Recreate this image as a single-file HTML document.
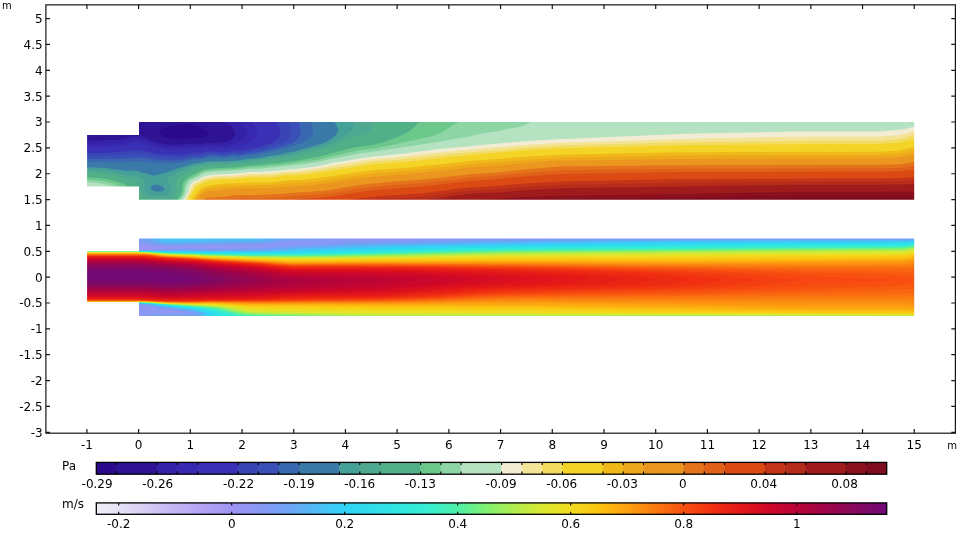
<!DOCTYPE html>
<html><head><meta charset="utf-8"><title>Plot</title>
<style>html,body{margin:0;padding:0;background:#fff;overflow:hidden}svg{display:block}text{font-family:"DejaVu Sans","Liberation Sans",sans-serif;fill:#000}</style></head><body>
<svg width="960" height="540" viewBox="0 0 960 540">
<rect width="960" height="540" fill="#fff"/>
<mask id="c1" maskUnits="userSpaceOnUse" x="80" y="115" width="840" height="90"><path d="M87.10 134.95H139.00V122.05H914.20V199.70H139.00V186.60H87.10Z" fill="#fff"/></mask>
<g mask="url(#c1)"><rect x="80" y="115" width="840" height="90" fill="#2a0a8a"/>
<path fill="#2e1494" d="M132.7 121.0L916.0 121.0L916.0 201.0L86.0 201.0L86.0 133.9L96.5 133.8L107.0 133.2L114.5 133.3L118.0 132.8L120.5 131.9L123.8 130.5L127.5 128.3L128.9 127.0L130.2 125.5L131.8 123.0ZM185.5 124.0L182.5 124.3L169.5 126.5L165.5 127.6L162.3 129.0L160.0 130.5L158.9 132.0L158.8 132.5L159.0 133.5L160.1 135.0L161.5 136.0L163.5 136.9L166.0 137.7L169.5 138.4L180.0 139.2L188.0 138.2L195.0 138.5L197.5 138.3L203.9 137.0L205.5 136.5L206.9 135.5L207.6 134.5L207.8 133.5L207.6 132.5L206.5 131.0L204.5 129.6L199.2 127.0L195.5 125.6L191.5 124.6L188.5 124.1Z"/>
<path fill="#3520a8" d="M221.6 121.0L916.0 121.0L916.0 201.0L86.0 201.0L86.0 140.4L95.0 140.7L106.0 139.9L113.0 140.1L116.5 140.0L119.5 139.5L128.5 137.6L134.5 135.9L136.5 135.7L140.0 136.2L143.0 137.1L146.0 138.2L151.5 140.7L157.0 142.6L162.0 143.8L166.0 144.4L174.5 144.7L181.5 144.6L193.0 143.8L200.0 143.8L206.5 142.5L209.0 142.5L215.0 143.2L224.0 142.2L226.5 141.7L228.6 141.0L230.7 140.0L232.8 138.5L233.8 137.5L234.8 136.0L235.3 134.5L235.2 133.0L234.9 131.5L233.8 129.5L232.2 127.5L230.2 125.5L228.0 123.9L223.0 121.9Z"/>
<path fill="#3828b0" d="M239.3 121.0L916.0 121.0L916.0 201.0L86.0 201.0L86.0 143.9L96.0 143.9L117.0 143.0L121.0 142.5L126.5 141.4L130.0 140.5L134.5 139.2L136.5 138.9L138.5 139.1L141.0 139.8L149.5 143.1L154.0 144.5L162.0 146.4L165.0 146.8L175.0 147.0L184.0 146.8L194.5 145.8L200.5 146.2L202.0 146.0L205.5 144.8L207.0 144.7L215.5 145.8L222.5 145.7L226.5 145.3L231.5 144.2L241.0 140.8L242.5 140.0L243.8 139.0L244.7 138.0L245.7 136.5L246.3 135.0L246.5 133.0L246.3 131.5L245.6 129.5L243.5 126.0Z"/>
<path fill="#3a30b5" d="M252.4 121.0L916.0 121.0L916.0 201.0L86.0 201.0L86.0 147.3L106.5 146.8L117.0 146.0L124.5 145.1L131.5 143.6L135.5 142.6L137.0 142.4L139.0 142.7L142.0 143.4L148.5 145.7L153.5 147.1L161.5 148.9L164.5 149.3L174.5 149.4L184.5 149.1L194.5 148.1L200.5 148.6L202.0 148.4L205.5 147.2L207.0 146.9L216.5 147.9L223.0 148.1L226.5 147.8L240.0 145.2L245.5 143.8L248.0 142.8L250.6 141.5L252.9 140.0L254.7 138.5L255.9 137.0L256.7 135.5L257.2 133.5L257.2 131.5L256.8 129.5L256.0 127.5Z"/>
<path fill="#3a45b5" d="M276.6 121.0L916.0 121.0L916.0 201.0L86.0 201.0L86.0 153.1L95.5 153.1L113.5 152.4L134.0 150.2L137.0 150.1L140.5 150.5L151.0 152.8L161.5 154.3L169.0 154.8L181.5 154.7L184.5 154.5L192.5 153.3L200.5 153.3L206.0 151.7L208.5 151.4L214.0 151.5L224.0 152.3L226.5 152.0L233.0 150.6L240.0 150.7L245.8 150.0L251.1 149.0L257.5 147.5L268.0 144.3L270.2 143.5L273.2 142.0L275.7 140.5L277.5 139.0L278.8 137.5L279.7 136.0L280.3 134.0L280.3 132.0L280.1 130.0L279.5 128.0Z"/>
<path fill="#3a50b8" d="M288.1 121.0L916.0 121.0L916.0 201.0L86.0 201.0L86.0 156.1L95.0 156.1L114.0 155.5L134.5 154.0L137.5 153.9L141.5 154.2L151.0 155.8L162.5 157.2L169.0 157.6L181.5 157.5L184.0 157.3L189.0 156.2L192.0 155.7L200.5 155.6L206.5 153.9L209.5 153.4L215.0 153.3L222.0 154.1L224.5 154.2L227.0 153.8L233.0 152.4L234.5 152.4L238.0 152.9L240.5 152.9L245.5 152.3L252.5 151.2L262.8 149.0L270.4 147.0L275.1 145.5L281.8 143.0L285.5 141.0L288.3 139.0L289.7 137.5L290.5 136.0L291.0 134.5L291.1 132.5L290.9 130.0L290.5 128.0Z"/>
<path fill="#3a68b0" d="M298.6 121.0L916.0 121.0L916.0 201.0L86.0 201.0L86.0 159.1L116.5 158.8L139.0 157.6L144.0 158.0L151.0 159.0L162.5 160.2L170.0 160.4L180.5 160.2L184.0 159.8L189.5 158.3L192.0 157.9L194.5 157.7L199.5 157.8L201.0 157.6L207.0 155.9L210.5 155.3L215.0 155.2L222.0 156.0L225.0 156.0L227.0 155.7L233.0 154.3L234.0 154.3L237.0 154.9L240.0 155.0L247.5 154.0L257.5 152.5L274.0 148.8L282.1 146.5L291.1 143.5L293.5 142.4L296.0 140.8L297.5 139.5L298.9 137.5L300.0 135.0L300.5 132.5L300.6 130.5L300.2 127.5Z"/>
<path fill="#3a7aa8" d="M310.8 121.0L916.0 121.0L916.0 201.0L86.0 201.0L86.0 162.0L101.0 161.9L121.5 162.4L139.0 161.6L144.0 161.9L151.0 162.8L160.5 163.6L168.5 163.6L182.5 162.4L184.5 162.0L189.4 160.5L192.0 159.9L194.5 159.6L200.5 159.4L207.5 157.8L211.0 157.3L215.0 157.2L222.0 157.8L225.0 157.8L232.5 156.6L237.0 156.9L240.0 156.8L259.0 154.3L276.5 150.7L292.5 146.6L295.6 145.5L300.0 143.4L303.8 142.0L307.4 140.0L309.5 138.5L311.5 136.5L312.5 135.0L313.1 133.5L313.2 131.5L312.8 128.5Z"/>
<path fill="#45a098" d="M334.4 121.0L916.0 121.0L916.0 201.0L86.0 201.0L86.0 167.5L98.0 167.6L105.0 167.9L119.0 169.9L126.5 170.7L129.0 170.7L133.5 170.4L135.5 170.4L137.5 170.9L141.0 172.3L146.6 173.5L151.0 175.1L152.5 175.4L154.5 175.4L157.0 175.1L163.5 173.5L177.0 168.7L184.5 166.7L191.0 164.4L195.0 163.4L199.5 162.9L205.0 161.9L210.0 161.3L224.0 161.2L239.0 160.4L247.5 159.1L259.0 158.0L269.5 155.9L278.5 154.7L286.0 153.1L293.5 151.8L296.5 151.0L300.0 149.7L309.2 147.5L322.0 143.6L325.9 142.0L328.9 140.5L332.6 138.0L335.0 136.0L336.6 134.0L337.9 131.5L338.2 130.0L337.9 128.0L337.2 126.5L335.0 123.0ZM153.5 185.0L151.5 186.0L151.0 186.5L150.5 187.5L150.7 188.5L151.4 189.5L153.5 190.8L156.5 191.6L160.0 191.6L162.5 190.9L163.5 190.3L164.1 189.5L164.2 188.5L163.6 187.5L161.5 186.2L159.5 185.5L156.5 184.8L155.0 184.7Z"/>
<path fill="#4fa890" d="M353.1 121.0L916.0 121.0L916.0 201.0L86.0 201.0L86.0 170.2L96.0 170.2L102.5 170.6L112.5 172.1L128.0 175.7L130.0 175.7L134.0 175.2L136.0 175.5L139.0 176.8L142.5 178.0L143.5 178.5L144.5 179.5L145.0 180.5L145.0 181.5L144.3 185.5L144.4 188.5L144.8 190.0L145.6 191.5L146.5 192.7L147.5 193.5L150.5 194.8L153.5 195.4L161.5 195.6L164.5 195.4L167.6 194.5L169.5 193.5L170.5 192.5L171.1 191.0L171.2 189.0L170.7 187.0L169.8 185.0L167.1 181.0L166.9 180.0L167.2 179.0L168.8 177.5L174.5 174.0L181.5 170.7L185.5 169.3L193.0 166.4L203.5 163.9L211.5 163.1L224.5 162.9L237.0 162.3L248.0 160.7L260.0 159.7L269.5 157.9L278.5 156.8L286.0 155.3L294.0 154.2L296.5 153.5L300.5 152.1L312.0 149.5L321.5 146.9L328.6 144.5L335.1 141.5L340.8 138.0L350.8 131.0L352.8 129.0L353.4 128.0L353.7 127.0L353.7 125.0Z"/>
<path fill="#52b088" d="M372.3 121.0L916.0 121.0L916.0 201.0L86.0 201.0L86.0 172.7L98.5 172.9L102.5 173.3L109.5 174.4L113.5 175.2L120.5 177.1L128.0 179.7L133.5 181.0L135.0 181.9L136.3 183.0L137.6 184.5L138.9 186.5L140.0 189.2L141.5 194.5L142.3 196.0L143.5 197.2L145.5 198.1L149.0 198.9L152.5 199.2L158.0 199.1L164.0 199.3L169.5 198.9L171.5 198.3L173.4 197.0L175.2 195.0L176.3 193.0L176.7 191.5L176.8 190.0L176.2 184.5L176.2 182.5L176.8 180.5L178.3 178.0L180.5 176.0L183.5 174.0L190.5 170.5L196.5 168.0L202.5 166.1L207.0 165.3L213.0 164.9L225.0 164.6L236.5 164.0L248.0 162.4L259.5 161.5L270.0 159.8L279.5 158.8L286.5 157.5L295.0 156.4L300.5 154.7L319.5 150.3L327.5 148.1L335.0 145.3L339.3 143.5L351.0 138.0L363.5 134.6L367.5 133.0L369.0 132.0L370.2 131.0L371.5 129.0L372.1 126.5Z"/>
<path fill="#6cc88a" d="M419.5 121.5L419.9 121.0L916.0 121.0L916.0 201.0L176.0 201.0L179.2 197.0L181.2 193.5L182.0 191.0L182.2 186.0L182.6 184.0L183.2 182.5L184.5 180.5L186.7 178.5L189.5 176.6L200.0 171.2L203.0 170.0L205.5 169.3L208.5 168.8L221.5 168.0L235.5 167.4L248.0 165.7L260.0 165.1L270.0 163.7L280.5 162.9L288.0 161.9L295.5 161.1L300.5 159.9L318.5 156.7L335.0 152.6L351.5 147.9L357.5 146.9L369.3 145.5L374.6 144.5L382.5 142.5L388.7 140.5L399.8 136.0L405.2 133.5L408.7 131.5L412.1 129.0L414.3 127.0L417.9 123.0ZM86.0 177.5L89.0 177.4L96.0 177.7L100.5 178.1L105.0 178.8L112.5 180.4L120.6 183.0L123.5 184.1L128.2 186.5L130.1 188.0L131.6 190.5L134.5 197.5L136.6 201.0L86.0 201.0Z"/>
<path fill="#8dd5a5" d="M460.0 121.5L460.6 121.0L916.0 121.0L916.0 201.0L178.3 201.0L181.4 196.5L183.0 193.6L183.8 191.0L184.3 187.0L184.7 185.0L185.5 183.0L187.1 181.0L189.0 179.2L191.0 177.9L197.0 175.1L201.5 172.4L204.5 171.3L209.0 170.5L222.0 169.6L236.0 169.0L248.5 167.3L259.5 166.9L270.5 165.6L281.5 164.8L288.5 163.9L296.5 163.1L300.5 162.3L318.5 159.7L328.0 157.2L336.3 155.5L354.0 151.3L360.0 150.3L371.1 149.0L379.6 147.5L430.8 136.5L436.9 134.5L441.4 132.5L445.7 130.0L454.0 124.6ZM86.0 180.0L86.0 179.8L94.0 180.0L98.5 180.4L103.0 181.1L108.0 182.1L112.0 183.2L116.0 184.5L119.6 186.0L124.3 188.5L125.7 189.5L127.0 190.8L128.5 193.0L132.7 201.0L86.0 201.0Z"/>
<path fill="#b5e3c2" d="M531.4 121.0L916.0 121.0L916.0 201.0L180.1 201.0L183.3 196.0L184.4 194.0L185.3 191.5L186.5 185.5L187.5 183.5L189.0 181.5L190.6 180.0L192.0 179.0L197.5 176.8L202.5 173.8L206.0 172.6L209.5 172.1L220.5 171.2L236.0 170.6L249.0 168.9L259.5 168.7L270.0 167.6L280.0 166.8L288.5 165.8L296.5 165.1L300.5 164.4L317.0 162.2L321.5 161.3L330.5 159.0L339.2 157.5L358.0 153.7L374.5 151.5L404.0 146.9L420.0 144.7L430.5 143.1L444.0 140.9L456.5 138.6L470.0 136.5L477.5 134.4L483.0 133.2L499.5 131.3L500.6 131.0L503.5 129.7L506.5 128.9L520.5 127.0L525.5 124.5L530.1 122.5L531.0 122.0L531.4 121.5ZM86.0 182.5L86.0 182.2L91.0 182.3L95.5 182.7L99.5 183.2L107.7 185.0L111.5 186.1L114.5 187.3L119.5 189.9L122.9 192.5L125.5 195.6L128.8 201.0L86.0 201.0Z"/>
<path fill="#f3ecd5" d="M913.7 127.0L916.0 126.8L916.0 201.0L183.1 201.0L187.3 193.5L189.9 186.0L190.8 184.5L192.0 183.0L193.9 181.5L199.0 179.3L202.5 177.2L204.5 176.4L207.5 175.6L214.0 174.7L234.0 173.8L251.0 172.0L259.5 172.0L274.0 171.1L278.5 170.7L286.0 169.7L296.5 169.0L319.0 165.9L332.5 163.1L345.0 161.1L367.5 157.3L405.0 153.4L435.0 149.6L482.0 145.1L531.5 140.7L557.5 139.2L638.5 135.7L680.0 134.1L712.0 133.3L795.0 131.6L880.0 131.4L900.0 129.8L907.5 128.4L910.5 127.6ZM86.0 188.0L86.0 187.6L88.0 187.6L95.0 188.3L100.5 189.4L106.0 191.2L110.1 193.0L114.0 195.3L117.5 198.2L119.2 200.0L119.9 201.0L86.0 201.0Z"/>
<path fill="#f3e49a" d="M914.5 130.5L916.0 130.3L916.0 201.0L184.5 201.0L188.5 194.0L191.5 186.7L192.5 185.1L193.5 184.0L195.5 182.6L199.5 180.8L203.5 178.6L206.0 177.8L209.5 177.0L215.0 176.2L234.5 175.4L251.5 173.7L260.0 173.8L273.5 173.1L278.5 172.6L285.0 171.5L297.0 170.9L308.0 169.6L319.5 167.9L335.0 165.0L368.9 159.5L405.0 156.3L436.5 152.5L455.0 150.8L500.0 147.1L519.5 145.3L560.5 142.7L680.0 139.1L794.0 136.7L880.0 136.5L900.0 134.9L908.0 132.9ZM86.0 191.0L86.0 190.7L88.0 190.8L93.5 191.3L98.0 192.3L102.0 193.5L105.7 195.0L109.0 196.7L112.5 199.1L114.5 201.0L86.0 201.0Z"/>
<path fill="#f2dc62" d="M913.9 134.5L915.0 134.1L916.0 134.0L916.0 201.0L186.0 201.0L186.7 199.5L190.0 194.0L193.0 187.8L194.0 186.3L195.3 185.0L197.6 183.5L204.0 180.4L207.5 179.3L212.0 178.3L215.0 177.9L222.0 177.5L234.5 177.2L252.5 175.4L260.5 175.6L272.5 175.2L278.0 174.6L285.0 173.3L293.5 173.2L297.5 173.0L308.0 171.8L318.0 170.4L369.5 161.9L375.5 161.3L394.5 160.0L406.0 159.1L439.0 155.3L461.0 153.1L499.7 150.0L520.0 148.0L560.5 145.6L680.0 142.2L795.0 141.0L880.0 140.7L900.0 139.1L908.0 137.0ZM86.0 194.5L86.0 194.2L90.5 194.5L94.0 195.1L97.5 196.0L100.5 197.0L103.5 198.3L106.7 200.0L107.9 201.0L86.0 201.0Z"/>
<path fill="#f5d428" d="M914.5 138.5L916.0 138.3L916.0 201.0L187.6 201.0L188.0 200.0L191.2 195.0L194.5 189.1L195.7 187.5L197.3 186.0L199.7 184.5L204.5 182.4L208.5 181.2L213.5 180.2L223.5 179.3L235.0 179.0L253.0 177.3L261.5 177.6L272.5 177.4L278.0 176.8L285.0 175.3L295.5 175.3L304.5 174.5L318.5 172.8L371.0 164.4L407.5 161.8L469.5 155.0L497.0 152.8L520.0 150.6L560.5 148.3L626.0 146.8L680.0 145.2L795.0 144.3L880.0 144.0L900.0 142.5L907.0 140.8ZM86.0 198.0L89.0 198.2L93.0 198.9L97.0 200.0L99.1 201.0L86.0 201.0Z"/>
<path fill="#f0b818" d="M914.2 147.0L916.0 146.8L916.0 201.0L191.3 201.0L192.9 198.5L197.5 192.2L199.5 190.0L202.0 188.2L204.5 187.0L207.5 186.1L220.5 184.1L225.0 183.7L235.0 183.3L250.0 182.4L265.0 182.4L272.0 182.2L277.0 181.8L287.0 180.6L296.5 180.2L308.5 179.3L323.5 177.5L359.5 172.1L374.0 170.2L410.5 167.5L470.0 161.0L500.0 158.8L520.0 157.0L560.0 154.7L680.0 152.2L880.0 151.7L900.0 150.4L908.0 148.7Z"/>
<path fill="#eda81c" d="M913.1 151.0L915.0 150.5L916.0 150.5L916.0 201.0L193.6 201.0L195.5 198.2L199.5 193.4L201.5 191.5L204.0 189.9L206.0 189.1L208.5 188.5L215.0 187.8L223.0 186.6L227.5 186.2L247.5 185.2L265.0 185.1L272.0 184.9L288.5 183.5L310.5 182.0L324.5 180.4L358.0 175.4L375.0 173.3L384.1 172.5L413.5 170.4L469.5 164.3L500.0 162.1L521.0 160.2L560.0 157.7L680.0 155.6L880.0 154.9L900.0 153.9L908.0 152.3Z"/>
<path fill="#ea961f" d="M913.7 154.5L916.0 154.2L916.0 201.0L196.1 201.0L196.7 200.0L199.0 197.2L202.5 193.8L205.5 192.0L207.0 191.5L209.0 191.1L215.5 190.7L224.5 189.4L232.0 188.8L245.0 188.2L262.0 188.2L272.0 187.9L313.5 184.9L325.0 183.6L359.5 178.5L377.5 176.4L420.5 173.0L470.0 167.6L499.5 165.5L520.5 163.5L553.5 161.1L560.5 160.7L680.0 159.0L880.0 158.2L900.0 157.3L908.0 155.8Z"/>
<path fill="#e4731c" d="M913.1 162.0L916.0 161.6L916.0 201.0L202.0 201.0L203.0 199.8L205.0 198.4L206.5 197.8L208.5 197.4L215.0 197.4L219.0 197.1L223.5 196.7L232.0 195.5L238.0 195.0L244.0 194.9L255.5 195.1L279.5 194.0L300.0 192.3L321.5 190.9L331.5 189.7L360.5 185.1L376.5 183.2L389.5 182.1L425.1 179.5L470.0 174.3L500.0 172.2L520.0 170.0L560.0 166.5L680.0 165.2L880.0 164.8L900.0 164.2L908.0 163.0Z"/>
<path fill="#e06218" d="M912.1 166.0L916.0 165.5L916.0 201.0L217.5 201.0L232.0 199.1L237.0 198.7L243.0 198.5L255.5 198.7L281.0 197.5L300.0 195.6L323.0 194.1L333.0 192.9L360.5 188.5L378.0 186.4L390.5 185.3L424.5 182.9L470.0 177.7L500.0 175.6L520.0 173.4L560.0 170.2L680.0 168.7L880.0 168.2L900.0 167.7Z"/>
<path fill="#dc4a14" d="M914.2 169.5L916.0 169.4L916.0 201.0L284.1 201.0L300.0 199.0L317.5 197.8L329.5 196.7L359.5 192.0L379.0 189.7L426.0 186.2L455.0 182.6L470.0 181.0L499.5 179.0L520.0 176.8L560.0 174.0L680.0 172.1L880.0 171.6L900.0 171.2Z"/>
<path fill="#c43418" d="M913.0 177.0L916.0 176.8L916.0 201.0L344.7 201.0L346.7 200.5L358.5 198.5L371.0 196.9L384.5 195.7L412.0 194.1L423.0 193.2L435.5 191.8L457.0 188.8L470.0 187.4L499.5 185.8L520.0 183.8L560.0 181.4L680.0 179.0L880.0 178.3L900.0 178.0Z"/>
<path fill="#b62c1a" d="M913.7 180.5L916.0 180.4L916.0 201.0L364.7 201.0L370.0 200.1L377.5 199.4L413.5 197.4L424.8 196.5L435.5 195.2L457.0 192.0L470.0 190.5L499.5 189.2L520.0 187.2L560.0 184.9L680.5 182.7L794.5 181.7L880.5 181.5L900.0 181.2Z"/>
<path fill="#a01c1c" d="M900.6 184.5L916.0 184.0L916.0 201.0L413.3 201.0L431.0 199.4L456.0 195.4L470.0 193.6L500.0 192.5L520.0 190.5L560.0 188.3L794.5 184.8L879.5 184.7Z"/>
<path fill="#8a101e" d="M908.7 191.5L916.0 191.3L916.0 201.0L471.0 201.0L474.0 200.5L479.3 200.0L500.0 199.1L520.0 197.0L560.0 195.8L680.0 193.9L795.0 191.8L880.0 191.7Z"/>
<path fill="#800c20" d="M908.8 195.5L916.0 195.4L916.0 201.0L520.6 201.0L522.4 200.5L534.2 200.0L559.8 199.5L697.5 197.4L794.5 195.7Z"/>
</g>
<mask id="c2" maskUnits="userSpaceOnUse" x="80" y="232" width="840" height="90"><path d="M87.10 251.35H139.00V238.40H914.20V315.90H139.00V302.00H87.10Z" fill="#fff"/></mask>
<g mask="url(#c2)"><rect x="80" y="232" width="840" height="90" fill="#9f94f5"/>
<path fill="#9995f5" d="M86.0 237.4L916.0 237.4L916.0 316.9L86.0 316.9L86.0 249.1L139.0 249.1L143.9 248.9L149.6 248.4L139.5 248.1L86.0 248.1Z"/>
<path fill="#9496f4" d="M86.0 237.4L916.0 237.4L916.0 316.9L86.0 316.9L86.0 249.6L139.5 249.7L169.5 248.5L170.8 248.4L173.1 247.9L172.1 247.4L170.0 247.3L146.5 246.4L86.0 246.3Z"/>
<path fill="#8e97f4" d="M86.0 237.4L362.7 237.4L364.0 237.9L370.5 238.2L395.4 237.9L402.0 237.4L916.0 237.4L916.0 316.9L86.0 316.9L86.0 249.9L139.5 249.9L172.6 248.9L182.0 248.0L189.5 247.6L195.5 247.6L205.5 248.0L212.5 248.1L232.7 247.9L242.6 247.4L237.4 246.9L219.5 246.4L208.5 246.3L191.5 246.7L164.0 246.2L139.5 245.1L86.0 245.1ZM160.0 310.4L159.8 310.4L159.4 310.9L160.1 311.4L161.4 311.9L163.7 312.4L167.0 312.6L171.0 312.5L172.9 312.4L174.2 311.9L174.2 311.4L173.8 310.9L172.6 310.4L170.5 310.1L165.5 310.0Z"/>
<path fill="#8898f4" d="M86.0 237.4L343.3 237.4L343.4 237.9L343.8 238.4L344.5 238.8L346.0 239.2L348.0 239.5L356.0 240.0L369.5 240.2L393.5 239.9L468.0 238.7L514.5 238.2L639.0 238.0L902.0 237.9L904.6 237.9L908.6 237.4L916.0 237.4L916.0 316.9L86.0 316.9L86.0 311.0L138.0 311.0L139.0 310.9L141.0 310.1L142.5 309.7L147.0 309.5L148.5 309.5L150.7 310.9L153.9 312.4L156.2 312.9L158.0 313.1L164.9 313.4L174.5 313.3L181.5 312.9L181.6 312.4L176.4 310.4L173.7 309.9L168.0 309.5L150.0 309.2L149.5 309.1L148.8 308.4L148.0 307.9L145.5 307.3L142.5 307.4L138.5 307.7L86.0 307.7L86.0 250.0L140.0 250.1L172.0 249.2L191.0 248.2L209.5 248.7L244.7 248.4L260.2 247.9L263.3 247.4L264.2 246.9L264.2 246.4L263.5 245.9L261.5 245.5L253.0 245.3L211.0 245.2L190.0 245.7L167.5 245.7L158.5 245.5L145.5 244.5L139.0 244.1L86.0 244.1ZM292.0 243.9L285.4 244.4L291.5 244.5L298.9 244.4L298.0 243.9Z"/>
<path fill="#829bf4" d="M86.0 237.4L331.3 237.4L331.2 237.9L330.7 238.4L329.0 239.1L325.0 240.0L321.0 240.6L312.5 241.1L293.0 241.5L288.3 241.9L280.0 243.0L271.5 243.6L254.0 244.1L209.0 244.6L183.5 245.2L169.0 245.3L163.0 245.2L157.5 244.9L139.0 243.1L86.0 243.1ZM909.6 238.4L916.0 238.1L916.0 316.9L143.0 316.9L143.2 315.9L144.1 314.9L145.1 314.4L147.0 314.1L151.0 313.9L181.0 313.8L188.3 313.4L189.3 312.9L184.0 311.7L179.2 310.4L176.7 309.9L172.5 309.4L160.5 308.8L156.0 308.3L152.0 307.2L146.9 305.4L145.0 305.1L142.5 305.2L138.5 306.0L86.0 306.0L86.0 250.1L139.5 250.2L174.0 249.4L190.5 248.7L211.5 249.1L256.0 248.6L262.0 248.4L267.5 247.9L274.5 246.7L280.0 246.1L312.9 244.9L318.5 244.4L327.0 242.7L330.5 242.3L337.5 241.8L349.0 241.5L401.8 240.9L470.0 239.5L512.5 239.0L601.0 238.7L902.0 238.5Z"/>
<path fill="#7b9ef5" d="M86.0 237.4L320.9 237.4L320.6 237.9L319.5 238.4L317.0 238.9L314.0 239.3L305.0 240.0L290.5 240.7L276.5 242.5L268.0 243.1L254.5 243.6L168.5 244.9L162.0 244.7L156.0 244.3L138.5 241.8L86.0 241.8ZM766.8 238.9L902.0 238.9L916.0 238.6L916.0 316.9L148.8 316.9L149.0 316.4L149.4 315.9L150.5 315.4L152.5 315.0L155.0 314.7L162.5 314.5L189.5 314.2L193.0 313.9L194.3 313.4L194.0 312.9L193.0 312.6L187.0 311.6L179.1 309.9L172.5 309.1L162.0 308.4L158.0 307.8L154.5 307.0L148.2 304.9L145.5 304.6L141.5 304.4L138.0 304.6L86.0 304.6L86.0 250.2L140.0 250.3L174.5 249.7L190.5 249.1L212.5 249.5L256.5 249.0L268.4 248.4L279.5 247.0L285.0 246.6L315.2 245.4L324.2 244.9L342.0 243.2L353.0 242.6L366.5 242.2L412.7 241.4L477.0 240.0L514.5 239.6L585.0 239.2Z"/>
<path fill="#74a1f6" d="M139.5 237.4L310.9 237.4L310.4 237.9L308.8 238.4L305.1 238.9L289.0 240.1L274.5 242.1L265.5 242.8L254.5 243.1L168.5 244.5L162.5 244.3L156.5 243.8L151.0 243.0L146.0 241.9L143.0 240.9L141.3 239.9L139.7 238.4ZM632.8 239.4L902.0 239.2L916.0 238.9L916.0 316.9L153.3 316.9L153.5 316.4L154.3 315.9L156.6 315.4L158.5 315.2L166.5 314.9L192.0 314.8L194.7 314.4L195.8 313.9L196.3 313.4L196.0 312.9L194.6 312.4L181.2 309.9L175.0 309.1L164.5 308.2L160.0 307.6L156.0 306.7L149.9 304.9L147.1 304.4L138.5 303.9L86.0 303.9L86.0 250.4L140.0 250.4L190.5 249.5L212.5 249.9L255.5 249.4L268.5 248.8L284.0 247.3L290.0 246.8L325.3 245.4L352.0 243.6L370.0 242.9L501.5 240.2L561.5 239.7Z"/>
<path fill="#6ea4f6" d="M143.2 237.4L300.5 237.4L299.9 237.9L297.7 238.4L284.5 239.8L270.9 241.9L263.0 242.5L254.0 242.8L168.5 244.1L163.5 244.0L159.0 243.7L155.0 243.1L151.5 242.4L148.6 241.4L144.8 239.4L143.5 238.4ZM906.8 239.4L916.0 239.2L916.0 316.9L157.8 316.9L158.1 316.4L159.6 315.9L165.5 315.4L192.5 315.7L194.5 315.3L196.0 314.8L197.5 313.9L197.8 313.4L197.5 312.9L196.4 312.4L193.0 311.6L179.9 309.4L162.0 307.5L158.0 306.7L151.3 304.9L147.5 304.3L138.5 303.7L86.0 303.7L86.0 250.4L140.0 250.5L190.5 249.9L216.5 250.2L256.5 249.7L270.5 249.1L292.5 247.2L328.0 245.7L354.5 244.2L365.5 243.7L415.0 242.5L507.5 240.7L576.5 240.1L644.0 239.7Z"/>
<path fill="#66aaf6" d="M146.8 237.4L289.7 237.4L289.1 237.9L287.4 238.4L279.0 239.7L270.0 241.4L261.5 242.2L254.0 242.4L218.0 242.9L193.5 243.5L168.5 243.7L160.7 243.4L156.9 242.9L154.5 242.4L151.8 241.4L148.4 239.4L147.2 238.4ZM701.9 239.9L902.0 239.7L916.0 239.5L916.0 316.9L195.3 316.9L195.5 316.4L196.1 315.9L198.0 314.8L199.0 313.9L199.2 313.4L198.9 312.9L197.9 312.4L196.5 312.0L193.0 311.2L181.0 309.3L163.0 307.2L149.9 304.4L139.0 303.6L86.0 303.6L86.0 250.5L140.0 250.6L188.5 250.3L214.0 250.5L255.0 250.1L271.5 249.5L294.0 247.6L330.5 246.1L359.0 244.6L371.5 244.2L412.5 243.1L487.0 241.6L525.0 241.0L611.0 240.2ZM164.6 316.4L167.5 316.2L172.5 316.3L175.4 316.4L177.6 316.9L163.6 316.9Z"/>
<path fill="#5fb0f6" d="M150.0 237.4L281.0 237.4L280.6 237.9L279.3 238.4L268.1 240.9L265.0 241.4L258.5 241.9L211.5 242.6L193.0 243.1L168.5 243.4L164.5 243.3L160.5 242.9L157.5 242.4L155.9 241.9L154.0 240.9L150.9 238.9L150.4 238.4ZM909.5 239.9L916.0 239.7L916.0 316.9L197.9 316.9L198.0 316.4L198.4 315.9L200.0 314.4L200.3 313.9L200.4 313.4L200.1 312.9L199.2 312.4L197.0 311.7L193.3 310.9L183.6 309.4L164.5 307.1L151.0 304.4L146.4 303.9L139.0 303.4L86.0 303.4L86.0 250.5L137.0 250.5L140.0 250.7L185.0 250.6L211.5 250.8L257.3 250.4L273.0 249.8L296.0 248.0L366.5 244.8L473.4 242.4L521.5 241.5L587.0 240.8L653.8 240.4L769.5 240.1L902.0 240.0Z"/>
<path fill="#58b6f6" d="M153.1 237.4L272.6 237.4L272.3 237.9L271.3 238.4L264.4 240.4L262.3 240.9L257.7 241.4L211.0 242.1L192.5 242.7L168.5 243.0L163.0 242.7L160.9 242.4L159.0 241.9L157.0 240.9L154.0 238.9L153.5 238.4ZM825.0 240.4L902.5 240.4L916.0 240.0L916.0 316.9L199.9 316.9L200.2 315.9L201.3 314.4L201.6 313.4L201.3 312.9L200.4 312.4L197.0 311.3L193.0 310.5L185.4 309.4L165.0 306.8L151.9 304.4L147.7 303.9L139.0 303.3L86.0 303.3L86.0 250.6L137.5 250.6L140.0 250.7L182.0 250.8L210.0 251.1L254.5 250.8L272.0 250.3L299.1 248.4L366.5 245.4L502.9 242.4L567.5 241.5L636.6 240.9L720.0 240.6Z"/>
<path fill="#50bcf6" d="M156.3 237.4L262.6 237.4L262.4 237.9L261.7 238.4L258.7 239.4L255.5 240.1L252.0 240.4L211.0 241.1L200.0 241.9L193.5 242.2L169.0 242.4L166.3 242.4L164.5 242.2L162.7 241.9L161.4 241.4L157.2 238.9L156.7 238.4ZM912.0 240.4L916.0 240.3L916.0 316.9L201.7 316.9L201.9 315.9L202.7 313.9L202.7 313.4L202.4 312.9L201.6 312.4L200.2 311.9L196.6 310.9L193.5 310.3L183.6 308.9L166.0 306.7L152.8 304.4L148.8 303.9L139.0 303.2L86.0 303.3L86.0 250.6L137.5 250.6L140.0 250.8L209.5 251.4L259.0 251.0L275.0 250.5L303.0 248.8L374.0 245.7L508.8 242.9L572.5 241.9L667.0 241.2L772.0 240.8L901.5 240.7Z"/>
<path fill="#48c2f6" d="M160.0 237.4L225.5 237.4L224.1 237.9L219.7 238.4L208.0 239.2L194.5 240.9L169.0 241.2L166.0 241.0L163.5 240.2L161.0 238.9L160.4 238.4L160.0 237.9ZM907.3 240.9L916.0 240.5L916.0 316.9L203.4 316.9L203.9 313.9L203.9 313.4L203.5 312.9L202.7 312.4L201.4 311.9L198.0 310.9L192.6 309.9L164.5 306.2L153.6 304.4L149.7 303.9L139.0 303.2L86.0 303.2L86.0 250.7L137.5 250.7L140.0 250.9L208.5 251.6L256.5 251.4L277.0 250.9L310.5 249.0L370.0 246.4L384.5 245.9L549.0 242.8L606.5 242.0L664.5 241.6L770.5 241.2L901.5 241.0Z"/>
<path fill="#40c8f6" d="M165.9 237.4L196.3 237.4L195.8 237.9L193.0 238.4L169.5 238.4L167.0 238.3L166.1 237.9ZM914.0 240.9L916.0 240.8L916.0 316.9L205.1 316.9L205.1 313.9L205.0 313.4L204.7 312.9L203.9 312.4L202.6 311.9L198.5 310.7L193.5 309.8L162.5 305.7L150.5 303.9L139.0 303.1L86.0 303.1L86.0 250.7L137.5 250.7L140.0 250.9L208.5 251.8L259.5 251.6L282.0 251.1L315.5 249.4L393.5 246.3L419.5 245.7L563.5 243.1L613.0 242.5L661.0 242.0L767.5 241.6L901.5 241.4Z"/>
<path fill="#38cef6" d="M910.0 241.4L916.0 241.1L916.0 316.9L206.9 316.9L206.4 313.9L205.8 312.9L203.8 311.9L198.5 310.4L193.0 309.5L163.0 305.6L151.3 303.9L139.0 303.0L86.0 303.0L86.0 250.8L137.5 250.8L140.0 251.0L167.0 251.5L208.0 252.0L263.5 251.9L286.5 251.4L322.0 249.7L358.0 248.4L391.0 246.9L407.0 246.4L579.0 243.4L624.5 242.8L673.5 242.4L775.5 242.0L901.5 241.7Z"/>
<path fill="#30d4f6" d="M915.3 241.4L916.0 241.4L916.0 316.9L208.9 316.9L208.7 315.9L207.5 313.4L207.1 312.9L205.0 311.9L199.8 310.4L193.5 309.3L171.4 306.4L161.0 305.2L152.0 303.9L139.0 302.9L86.0 303.0L86.0 250.8L137.5 250.9L140.0 251.0L167.5 251.7L208.5 252.2L265.0 252.2L281.7 251.9L299.1 251.4L327.0 250.0L363.5 248.8L401.0 247.2L419.5 246.6L442.0 246.2L513.0 245.2L598.5 243.7L643.0 243.1L747.5 242.5L901.5 242.1Z"/>
<path fill="#30d6f3" d="M911.6 241.9L916.0 241.6L916.0 316.9L211.2 316.9L210.9 315.9L208.4 312.9L206.2 311.9L200.5 310.3L193.0 309.0L172.9 306.4L162.0 305.2L152.7 303.9L139.5 302.9L86.0 302.9L86.0 250.9L137.5 250.9L140.0 251.1L168.0 251.9L208.0 252.4L268.4 252.4L300.0 251.8L335.0 250.2L375.3 248.9L411.0 247.4L451.5 246.4L530.2 245.4L606.5 244.1L653.0 243.5L753.5 242.9L901.5 242.4Z"/>
<path fill="#30d9f0" d="M909.1 242.4L916.0 241.9L916.0 316.9L213.5 316.9L213.2 315.9L209.8 312.9L208.9 312.4L205.9 311.4L200.5 310.0L193.5 308.8L170.4 305.9L162.5 305.1L153.4 303.9L139.5 302.8L86.0 302.9L86.0 250.9L137.5 250.9L140.0 251.1L167.0 252.0L208.5 252.6L246.5 252.7L269.0 252.6L308.6 251.9L342.0 250.4L388.6 248.9L420.0 247.6L462.0 246.7L663.0 243.9L762.0 243.3L900.5 242.8L904.5 242.7Z"/>
<path fill="#30dcee" d="M912.7 242.4L916.0 242.2L916.0 316.9L215.8 316.9L215.4 315.9L211.5 312.9L208.9 311.9L201.5 309.9L193.0 308.5L171.8 305.9L163.5 305.1L154.1 303.9L148.9 303.4L139.5 302.8L86.0 302.8L86.0 251.0L137.5 251.0L140.0 251.2L167.5 252.1L208.5 252.8L246.5 252.9L270.0 252.8L300.0 252.4L314.5 252.0L349.5 250.6L386.9 249.4L428.5 247.9L469.0 246.9L679.0 244.2L772.5 243.6L902.0 243.2L905.5 243.0Z"/>
<path fill="#30deeb" d="M910.4 242.9L916.0 242.4L916.0 316.9L218.0 316.9L217.9 316.4L217.6 315.9L217.0 315.4L213.1 312.9L212.0 312.4L202.5 309.8L193.8 308.4L173.2 305.9L164.0 305.1L154.8 303.9L149.0 303.3L139.5 302.7L86.0 302.8L86.0 251.0L137.5 251.0L140.0 251.2L167.5 252.2L208.5 252.9L248.0 253.1L273.0 253.0L312.2 252.4L357.5 250.7L435.5 248.1L478.5 247.1L687.0 244.6L777.5 244.0L901.5 243.5L905.0 243.4Z"/>
<path fill="#30e0e8" d="M913.5 242.9L916.0 242.7L916.0 316.9L220.2 316.9L220.1 316.4L219.7 315.9L219.0 315.4L214.6 312.9L212.0 311.9L205.5 310.2L201.0 309.3L196.0 308.5L174.5 305.9L164.5 305.0L150.4 303.4L140.0 302.7L86.0 302.7L86.0 251.1L137.5 251.1L140.0 251.3L152.5 251.7L167.5 252.3L209.0 253.1L248.0 253.3L275.0 253.2L300.0 252.9L322.0 252.4L361.0 251.0L443.0 248.3L484.0 247.4L692.0 245.0L787.0 244.3L901.5 243.9L905.5 243.7Z"/>
<path fill="#30e3e6" d="M911.4 243.4L916.0 243.0L916.0 316.9L222.3 316.9L222.2 316.4L221.9 315.9L221.1 315.4L215.1 312.4L211.7 311.4L206.5 310.1L202.0 309.2L197.2 308.4L175.8 305.9L163.0 304.8L151.1 303.4L140.0 302.7L86.0 302.7L86.0 251.1L137.5 251.1L140.0 251.4L152.0 251.7L167.0 252.4L209.5 253.2L248.0 253.5L276.5 253.4L302.5 253.1L323.0 252.6L446.0 248.6L491.0 247.6L702.5 245.3L796.0 244.7L901.0 244.2L905.5 244.0Z"/>
<path fill="#30e6e3" d="M914.1 243.4L916.0 243.2L916.0 316.9L224.5 316.9L224.4 316.4L224.0 315.9L223.2 315.4L216.6 312.4L213.2 311.4L209.2 310.4L204.0 309.3L198.8 308.4L177.1 305.9L163.5 304.7L151.8 303.4L140.0 302.6L86.0 302.6L86.0 251.2L137.5 251.2L140.0 251.4L151.5 251.8L167.0 252.5L209.5 253.4L248.5 253.7L280.0 253.6L302.5 253.3L322.5 252.9L452.5 248.8L494.0 247.9L705.5 245.7L901.0 244.5L905.5 244.3Z"/>
<path fill="#30e8e0" d="M912.2 243.9L916.0 243.5L916.0 316.9L226.7 316.9L226.6 316.4L226.1 315.9L225.2 315.4L218.1 312.4L210.8 310.4L205.0 309.2L200.0 308.3L178.3 305.9L164.0 304.7L152.0 303.4L140.0 302.6L86.0 302.6L86.0 251.2L137.5 251.2L140.0 251.5L154.0 252.0L167.0 252.6L209.5 253.5L248.5 253.9L282.0 253.8L304.5 253.5L326.0 253.0L452.0 249.2L499.0 248.1L712.5 246.0L898.5 244.9L904.5 244.7Z"/>
<path fill="#32eadc" d="M914.7 243.9L916.0 243.8L916.0 316.9L228.9 316.9L228.8 316.4L228.3 315.9L227.3 315.4L218.0 311.9L211.5 310.2L204.9 308.9L200.0 308.1L179.6 305.9L164.5 304.6L152.0 303.3L140.0 302.5L86.0 302.6L86.0 251.2L137.5 251.2L140.0 251.5L153.5 252.0L167.0 252.7L210.5 253.7L249.5 254.1L288.5 253.9L307.0 253.7L327.5 253.2L452.0 249.5L500.0 248.4L724.0 246.3L898.5 245.2L905.0 245.0Z"/>
<path fill="#34ebd8" d="M912.9 244.4L916.0 244.1L916.0 316.9L231.2 316.9L231.0 316.4L230.5 315.9L229.5 315.4L219.5 311.9L211.8 309.9L205.0 308.6L200.0 307.9L175.8 305.4L165.0 304.6L150.5 303.1L140.0 302.5L86.0 302.5L86.0 251.3L137.5 251.3L140.0 251.6L153.0 252.1L168.0 252.9L192.5 253.3L208.5 253.8L229.0 254.1L254.0 254.3L294.5 254.1L327.5 253.5L386.3 251.9L457.5 249.7L503.0 248.7L734.0 246.6L895.0 245.6L904.0 245.4Z"/>
<path fill="#36ecd4" d="M915.4 244.4L916.0 244.4L916.0 316.9L233.5 316.9L233.4 316.4L232.8 315.9L231.7 315.4L226.0 313.7L220.9 311.9L212.0 309.6L201.8 307.9L177.1 305.4L165.5 304.5L150.0 303.0L140.0 302.4L86.0 302.5L86.0 251.3L137.5 251.3L140.0 251.6L153.0 252.1L167.5 253.0L192.5 253.4L209.0 253.9L232.5 254.3L255.0 254.5L296.5 254.3L328.5 253.7L396.8 251.9L461.9 249.9L503.0 249.0L750.0 246.8L895.0 245.9L904.5 245.7Z"/>
<path fill="#38eed0" d="M913.5 244.9L916.0 244.6L916.0 316.9L236.0 316.9L235.8 316.4L235.2 315.9L234.0 315.4L228.0 313.8L222.4 311.9L217.0 310.4L209.5 308.8L203.5 307.9L199.1 307.4L178.3 305.4L165.5 304.5L152.0 303.1L140.5 302.4L86.0 302.4L86.0 251.4L137.5 251.4L140.0 251.7L152.5 252.2L167.5 253.0L192.5 253.5L209.0 254.1L233.5 254.5L254.0 254.7L297.5 254.5L327.0 254.0L395.5 252.2L465.5 250.1L505.0 249.3L761.5 247.0L892.5 246.2L904.0 246.0Z"/>
<path fill="#3eeec6" d="M911.8 245.4L916.0 244.9L916.0 316.9L238.7 316.9L238.5 316.4L237.8 315.9L236.4 315.4L229.5 313.7L223.9 311.9L217.0 310.0L208.8 308.4L200.5 307.4L179.5 305.4L164.0 304.3L151.5 303.0L140.5 302.4L86.0 302.4L86.0 251.4L137.5 251.4L140.0 251.7L152.5 252.2L167.5 253.1L192.5 253.6L209.0 254.2L235.0 254.7L254.0 254.8L298.0 254.7L327.5 254.2L400.0 252.4L468.5 250.4L507.0 249.6L776.5 247.2L891.0 246.6L903.5 246.4Z"/>
<path fill="#44efbc" d="M913.9 245.4L916.0 245.2L916.0 316.9L241.6 316.9L241.4 316.4L240.6 315.9L239.0 315.4L231.0 313.6L217.5 309.7L210.7 308.4L201.0 307.2L180.0 305.3L164.5 304.2L150.6 302.9L140.5 302.3L86.0 302.4L86.0 251.5L137.5 251.5L140.0 251.8L152.5 252.3L167.5 253.2L192.5 253.8L209.0 254.3L236.5 254.9L254.0 255.0L299.5 254.9L327.5 254.5L410.7 252.4L474.0 250.6L506.4 249.9L551.5 249.4L664.0 248.7L788.5 247.5L892.5 246.9L904.0 246.7Z"/>
<path fill="#4af0b2" d="M912.2 245.9L916.0 245.4L916.0 316.9L245.1 316.9L244.8 316.4L243.8 315.9L232.5 313.5L217.5 309.4L210.5 308.1L201.5 307.1L177.5 305.0L164.5 304.1L151.0 302.9L140.5 302.3L86.0 302.3L86.0 251.5L137.5 251.5L140.0 251.8L152.0 252.3L167.5 253.3L192.5 253.9L209.0 254.5L236.5 255.0L254.0 255.2L300.5 255.2L329.0 254.7L411.5 252.7L476.0 250.9L508.5 250.2L554.0 249.7L668.5 249.0L796.0 247.7L891.5 247.2L903.5 247.0Z"/>
<path fill="#50f0a8" d="M914.2 245.9L916.0 245.7L916.0 316.9L249.8 316.9L249.3 316.4L247.8 315.9L234.0 313.4L221.2 309.9L217.0 308.9L211.2 307.9L202.0 306.9L177.1 304.9L165.0 304.1L151.0 302.8L140.5 302.2L86.0 302.3L86.0 251.6L137.5 251.6L140.0 251.9L152.0 252.4L167.5 253.4L192.0 254.0L209.0 254.6L237.5 255.2L254.0 255.4L302.0 255.4L330.5 254.9L480.0 251.1L509.5 250.5L556.5 250.0L670.0 249.3L807.0 248.0L892.5 247.5L904.0 247.3Z"/>
<path fill="#5cf09a" d="M912.6 246.4L916.0 246.0L916.0 316.9L262.5 316.9L260.4 316.4L251.0 315.6L239.0 314.0L233.5 312.9L222.0 309.7L217.0 308.5L212.0 307.7L203.6 306.9L178.4 304.9L165.5 304.1L151.0 302.8L140.5 302.2L86.0 302.2L86.0 251.6L137.5 251.6L140.0 251.9L152.0 252.5L167.5 253.5L192.0 254.1L209.0 254.7L238.0 255.4L254.5 255.6L302.0 255.6L332.0 255.1L480.5 251.4L510.5 250.8L557.5 250.3L678.5 249.6L809.5 248.3L892.0 247.8L904.0 247.6Z"/>
<path fill="#68f08c" d="M914.4 246.4L916.0 246.2L916.0 316.9L292.2 316.9L288.8 316.4L255.0 315.3L247.0 314.7L241.5 314.0L236.5 313.1L221.0 309.0L217.0 308.2L213.0 307.6L205.8 306.9L179.8 304.9L165.0 304.0L150.5 302.7L139.5 302.1L86.0 302.2L86.0 251.7L137.5 251.7L140.0 252.0L152.5 252.6L166.5 253.6L192.0 254.2L210.0 254.9L249.0 255.7L303.0 255.8L334.0 255.4L481.0 251.8L511.0 251.2L561.5 250.6L681.0 249.9L815.5 248.6L893.5 248.1L904.5 247.9Z"/>
<path fill="#74f07e" d="M913.1 246.9L916.0 246.5L916.0 316.9L309.0 316.9L307.0 316.4L299.6 315.9L262.0 315.1L253.0 314.7L247.5 314.3L242.0 313.7L237.2 312.9L221.5 308.8L217.1 307.9L213.4 307.4L181.1 304.9L165.5 303.9L149.5 302.5L139.5 302.1L86.0 302.2L86.0 251.7L137.5 251.7L140.0 252.0L152.5 252.6L166.5 253.6L192.0 254.3L210.0 255.0L249.0 255.9L303.0 256.1L336.0 255.6L477.0 252.2L513.0 251.5L566.0 250.9L689.5 250.1L817.2 248.9L892.0 248.5L904.0 248.2L907.5 247.8Z"/>
<path fill="#80f070" d="M914.9 246.9L916.0 246.8L916.0 316.9L321.2 316.9L319.5 316.4L312.5 315.9L299.3 315.4L261.5 314.7L248.5 314.1L243.0 313.5L238.5 312.8L234.0 311.7L223.0 308.7L219.0 307.9L215.6 307.4L202.0 306.3L165.5 303.9L149.0 302.5L139.5 302.0L86.0 302.1L86.0 251.8L137.5 251.8L140.0 252.1L152.5 252.7L166.5 253.7L192.0 254.4L210.0 255.2L249.0 256.0L304.0 256.3L337.5 255.8L476.5 252.5L519.0 251.7L570.5 251.2L692.5 250.4L818.5 249.2L901.0 248.7L906.5 248.3Z"/>
<path fill="#8cf068" d="M913.8 247.4L916.0 247.1L916.0 316.5L668.0 316.3L642.1 316.4L628.0 316.9L332.9 316.9L331.1 316.4L325.2 315.9L312.9 315.4L265.0 314.4L254.0 314.1L249.0 313.8L243.5 313.2L239.0 312.5L223.5 308.4L217.0 307.3L203.0 306.2L165.5 303.8L148.5 302.4L140.0 302.0L86.0 302.1L86.0 251.8L137.5 251.8L140.0 252.2L152.5 252.8L166.5 253.8L192.0 254.5L210.0 255.3L249.0 256.2L285.0 256.5L303.5 256.5L341.5 256.0L396.5 254.8L474.3 252.9L519.0 252.1L819.5 249.6L899.5 249.1L905.5 248.8Z"/>
<path fill="#98ef60" d="M915.8 247.4L916.0 247.4L916.0 316.1L660.5 315.8L628.7 315.9L608.0 316.2L592.5 316.4L583.9 316.9L345.8 316.9L343.7 316.4L337.2 315.9L324.8 315.4L302.5 314.8L265.0 314.1L250.0 313.6L245.0 313.1L240.8 312.4L235.5 311.2L225.0 308.4L221.0 307.6L217.0 307.1L201.6 305.9L165.5 303.7L148.5 302.3L140.0 302.0L86.0 302.1L86.0 251.9L137.5 251.9L140.0 252.2L152.5 252.8L166.5 253.9L192.0 254.6L210.0 255.4L249.5 256.4L286.0 256.8L304.5 256.8L331.5 256.5L382.5 255.5L471.0 253.3L518.5 252.4L575.0 251.9L898.5 249.4L905.5 249.1Z"/>
<path fill="#a4ee58" d="M914.7 247.9L916.0 247.7L916.0 315.9L657.5 315.5L576.7 315.9L522.0 316.7L369.0 316.6L351.7 315.9L320.5 314.9L268.0 313.9L251.5 313.3L246.6 312.9L242.0 312.2L236.1 310.9L225.5 308.1L221.8 307.4L217.5 306.9L204.1 305.9L166.0 303.7L147.5 302.2L140.0 301.9L86.0 302.0L86.0 252.0L137.5 252.0L140.0 252.3L152.3 252.9L166.5 254.0L192.5 254.8L210.0 255.6L249.0 256.5L286.0 257.0L304.0 257.0L331.5 256.7L385.0 255.8L481.0 253.4L516.5 252.8L583.5 252.2L898.0 249.8L903.0 249.7L905.5 249.5Z"/>
<path fill="#b0ee50" d="M913.9 248.4L916.0 248.1L916.0 315.7L671.0 315.2L525.5 315.7L360.5 315.6L308.0 314.3L268.0 313.6L251.5 313.0L246.5 312.5L242.6 311.9L237.5 310.8L227.0 308.0L219.8 306.9L206.0 305.8L166.0 303.6L147.5 302.2L140.0 301.9L137.0 302.0L86.0 302.0L86.0 252.0L137.5 252.0L140.0 252.3L151.3 252.9L166.5 254.1L192.5 254.9L209.5 255.7L248.5 256.7L286.0 257.2L303.5 257.3L332.0 257.0L388.5 256.0L477.4 253.9L516.5 253.2L818.5 250.7L896.0 250.2L904.5 250.0L908.0 249.5Z"/>
<path fill="#bbec48" d="M913.2 248.9L916.0 248.4L916.0 315.5L676.5 315.0L523.0 315.3L381.0 315.2L356.5 315.1L272.5 313.4L252.5 312.7L248.5 312.4L243.5 311.6L238.0 310.4L228.6 307.9L225.9 307.4L220.5 306.7L207.5 305.8L166.0 303.5L147.5 302.1L140.0 301.8L137.0 302.0L86.0 302.0L86.0 252.1L137.5 252.1L140.5 252.4L151.0 253.0L166.5 254.2L192.0 255.0L209.5 255.8L248.0 256.8L286.0 257.5L303.0 257.5L331.0 257.2L389.5 256.3L482.5 254.2L517.5 253.6L821.5 251.1L894.0 250.7L904.5 250.4L908.5 249.8Z"/>
<path fill="#c6eb40" d="M915.1 248.9L916.0 248.8L916.0 315.4L680.5 314.8L501.0 315.0L380.5 314.9L355.0 314.7L272.0 313.0L253.0 312.4L248.5 312.0L244.8 311.4L240.0 310.4L230.6 307.9L226.5 307.2L221.0 306.5L208.5 305.6L166.0 303.5L147.5 302.1L140.0 301.8L137.0 301.9L86.0 301.9L86.0 252.2L137.5 252.2L140.0 252.5L151.0 253.0L166.5 254.3L192.5 255.1L210.0 256.0L248.5 257.0L286.0 257.7L303.5 257.7L331.5 257.5L393.0 256.6L485.0 254.6L517.5 254.0L894.0 251.1L902.0 251.0L905.0 250.8L909.0 250.2Z"/>
<path fill="#d1ea38" d="M914.6 249.4L916.0 249.2L916.0 315.2L684.5 314.6L470.0 314.6L357.0 314.3L278.0 312.8L253.0 311.9L248.0 311.4L243.5 310.7L233.5 308.1L230.2 307.4L222.0 306.4L209.5 305.5L166.3 303.4L147.5 302.0L140.0 301.7L137.0 301.9L86.0 301.9L86.0 252.3L137.5 252.3L140.0 252.6L151.5 253.1L166.0 254.4L193.0 255.3L209.5 256.1L246.5 257.1L286.0 257.9L303.0 258.0L331.0 257.7L394.0 256.9L485.5 255.0L516.5 254.5L893.0 251.6L904.5 251.3L908.5 250.7Z"/>
<path fill="#dce830" d="M914.5 249.9L916.0 249.6L916.0 315.1L685.5 314.4L427.5 314.2L356.3 313.9L281.2 312.4L253.5 311.5L249.0 311.1L244.8 310.4L232.5 307.4L222.5 306.2L209.5 305.3L167.0 303.4L147.5 302.0L140.0 301.7L137.0 301.8L86.0 301.8L86.0 252.4L137.5 252.4L140.0 252.6L151.5 253.2L167.0 254.5L193.0 255.4L209.5 256.2L238.0 257.1L280.0 258.1L302.0 258.2L330.0 258.0L396.5 257.2L485.5 255.4L515.5 255.0L658.5 254.1L820.0 252.6L891.5 252.2L904.5 251.8L908.5 251.2Z"/>
<path fill="#e1e52c" d="M914.6 250.4L916.0 250.1L916.0 314.9L691.5 314.2L447.0 313.9L359.1 313.4L282.0 311.9L253.5 311.0L249.5 310.6L245.5 310.0L237.3 307.9L234.5 307.3L229.5 306.6L222.5 306.0L210.0 305.1L167.0 303.3L153.5 302.3L146.5 301.9L140.0 301.7L137.0 301.8L86.0 301.8L86.0 252.5L137.5 252.5L151.5 253.3L167.0 254.6L191.5 255.4L209.0 256.3L235.0 257.2L279.0 258.3L301.0 258.5L330.0 258.3L397.5 257.5L514.5 255.4L663.0 254.6L819.5 253.2L890.0 252.7L904.5 252.4L908.5 251.8Z"/>
<path fill="#e6e228" d="M914.9 250.9L916.0 250.7L916.0 314.7L710.0 314.0L446.5 313.4L388.5 313.0L352.0 312.6L279.0 311.2L253.5 310.4L248.0 309.8L239.9 307.9L235.0 307.0L222.5 305.7L210.5 305.0L167.0 303.2L146.5 301.8L140.0 301.6L137.0 301.7L86.0 301.7L86.0 252.6L137.5 252.6L151.5 253.4L166.5 254.7L192.5 255.6L210.0 256.5L232.5 257.3L280.5 258.6L300.5 258.7L328.5 258.6L401.5 257.7L513.5 255.9L668.0 255.1L814.5 253.7L888.5 253.2L904.5 252.9L909.0 252.2Z"/>
<path fill="#ebdf24" d="M915.2 251.4L916.0 251.3L916.0 314.5L572.8 313.4L410.5 312.5L344.0 311.8L279.0 310.6L256.3 309.9L250.0 309.4L240.2 307.4L237.0 306.9L223.0 305.5L210.0 304.7L189.0 304.1L167.0 303.1L146.5 301.8L140.0 301.6L137.0 301.7L86.0 301.7L86.0 252.7L137.5 252.7L150.7 253.4L166.5 254.8L193.0 255.8L209.5 256.7L233.5 257.5L278.0 258.8L299.0 259.0L402.0 258.1L511.5 256.4L674.0 255.6L808.0 254.3L887.0 253.8L904.0 253.4L908.5 252.8Z"/>
<path fill="#f0dc20" d="M915.7 251.9L916.0 251.9L916.0 314.3L893.0 314.1L597.5 313.0L496.0 312.1L378.7 311.4L335.6 310.9L279.5 309.9L260.0 309.3L252.0 308.8L238.0 306.6L229.5 305.8L221.5 305.1L210.5 304.5L188.5 303.9L167.5 303.1L146.0 301.7L140.0 301.5L137.0 301.6L86.0 301.6L86.0 252.8L138.0 252.8L149.5 253.4L168.0 255.0L192.6 255.9L216.5 257.1L280.0 259.1L298.5 259.3L399.5 258.5L510.5 256.9L680.0 256.2L808.8 254.9L886.5 254.4L904.0 254.0L908.0 253.5Z"/>
<path fill="#f3d61c" d="M913.6 252.9L916.0 252.4L916.0 314.0L889.0 313.7L670.0 312.9L612.7 312.4L521.5 311.2L381.5 310.4L317.5 309.7L281.0 309.0L254.5 308.1L250.5 307.8L233.5 305.8L219.5 304.7L209.5 304.3L189.5 303.8L167.5 303.0L146.0 301.6L140.0 301.5L137.0 301.6L86.0 301.6L86.0 252.9L138.0 252.9L148.5 253.4L167.5 255.1L191.5 256.0L212.5 257.2L276.5 259.3L295.5 259.6L405.5 258.8L512.0 257.4L684.5 256.9L823.5 255.5L881.5 255.1L903.5 254.7L908.0 254.1Z"/>
<path fill="#f6d018" d="M86.0 253.4L86.0 253.1L138.0 253.1L149.0 253.6L167.5 255.3L192.0 256.2L217.5 257.6L279.5 259.7L296.0 260.0L399.5 259.3L508.0 258.1L686.0 257.6L823.5 256.3L882.0 255.9L903.5 255.5L908.0 254.8L916.0 253.1L916.0 313.6L883.0 313.4L760.1 312.9L692.2 312.4L634.0 311.8L529.5 310.2L392.5 309.3L319.0 308.5L279.5 307.8L253.0 307.2L231.0 305.2L219.5 304.5L209.5 304.1L188.0 303.6L167.8 302.9L153.5 301.9L145.0 301.6L140.0 301.4L137.0 301.5L86.0 301.5Z"/>
<path fill="#f9ca14" d="M86.0 253.4L86.0 253.2L137.5 253.2L144.2 253.4L152.0 253.9L168.0 255.5L192.5 256.4L214.0 257.7L280.5 260.2L295.0 260.5L396.5 259.8L507.5 258.8L697.5 258.4L823.0 257.2L878.0 256.8L903.5 256.3L908.0 255.7L916.0 253.8L916.0 313.3L900.0 313.0L792.0 312.5L731.0 312.0L646.0 311.0L536.0 309.3L389.0 308.1L254.0 306.5L248.0 306.3L229.5 304.8L217.5 304.1L209.0 303.8L183.5 303.4L166.5 302.7L152.5 301.8L145.5 301.5L140.0 301.4L137.0 301.5L86.0 301.5Z"/>
<path fill="#fcc410" d="M86.0 253.4L137.5 253.3L144.5 253.5L150.8 253.9L164.0 255.3L170.0 255.7L190.5 256.5L209.0 257.6L220.5 258.2L282.0 260.6L295.0 260.9L504.0 259.4L699.0 259.2L874.0 257.7L903.5 257.2L908.5 256.5L916.0 254.7L916.0 312.8L899.0 312.5L804.1 311.9L729.0 311.2L661.0 310.3L576.5 308.8L524.5 308.1L361.0 306.8L303.0 306.0L253.0 305.9L247.0 305.7L229.5 304.5L217.5 303.8L184.0 303.3L167.0 302.7L151.5 301.7L140.5 301.3L137.0 301.5L86.0 301.5Z"/>
<path fill="#fcbb10" d="M86.0 253.9L86.0 253.4L137.5 253.4L145.0 253.7L150.0 253.9L165.0 255.6L169.0 255.9L191.0 256.7L218.0 258.3L282.5 261.1L294.5 261.4L499.5 260.1L676.5 260.2L737.0 259.8L822.0 258.9L873.0 258.5L900.5 258.1L904.0 258.0L907.0 257.6L916.0 255.7L916.0 312.0L904.5 311.6L893.5 311.5L805.5 311.1L738.5 310.4L590.5 308.0L521.5 307.1L366.0 306.1L306.0 305.4L252.5 305.4L246.0 305.1L218.0 303.5L210.0 303.3L193.0 303.3L184.0 303.2L167.0 302.6L151.5 301.6L140.5 301.3L137.0 301.4L86.0 301.4Z"/>
<path fill="#fcb210" d="M86.0 253.9L86.0 253.6L137.5 253.6L146.0 253.8L153.6 254.4L164.5 255.7L168.5 256.0L191.5 256.9L215.0 258.4L285.0 261.6L294.5 261.8L365.0 261.4L495.5 260.8L673.5 261.0L735.0 260.7L870.5 259.4L897.5 259.0L903.0 258.9L906.0 258.6L910.0 258.0L916.0 256.7L916.0 310.9L901.5 310.5L813.5 310.2L769.4 309.9L672.5 308.2L526.0 306.1L367.0 305.4L306.0 304.9L252.5 304.8L245.0 304.6L219.0 303.3L210.0 303.1L194.0 303.2L184.0 303.0L166.5 302.5L152.0 301.6L140.0 301.2L137.0 301.3L86.0 301.3Z"/>
<path fill="#fca910" d="M86.0 253.9L86.0 253.7L137.5 253.7L145.8 253.9L152.4 254.4L164.0 255.8L168.0 256.1L191.5 257.1L210.5 258.4L238.0 259.6L287.0 262.1L294.5 262.3L365.5 261.8L488.0 261.5L668.0 261.8L729.5 261.5L867.0 260.3L893.5 259.9L902.5 259.7L905.5 259.5L909.5 259.0L916.0 257.7L916.0 309.8L902.5 309.2L815.5 309.2L783.0 308.9L693.0 307.2L537.0 305.0L369.0 304.8L305.5 304.4L252.0 304.4L244.5 304.2L226.5 303.2L216.3 302.9L208.5 302.8L193.0 303.0L181.0 302.8L166.5 302.4L152.0 301.5L140.0 301.1L137.0 301.3L86.0 301.3Z"/>
<path fill="#fca010" d="M86.0 253.9L138.0 253.9L146.0 254.0L151.5 254.4L163.5 255.9L167.5 256.3L189.0 257.2L210.0 258.6L265.5 261.2L287.5 262.5L294.5 262.7L364.5 262.2L458.0 262.1L542.0 262.1L663.0 262.6L729.0 262.4L864.5 261.3L888.0 260.9L904.5 260.5L909.0 260.0L916.0 258.7L916.0 308.2L902.5 307.4L815.5 307.4L785.5 307.2L582.0 304.1L542.5 303.7L508.5 303.6L386.5 304.1L298.5 303.9L252.5 303.9L244.5 303.8L225.6 302.9L216.5 302.7L208.5 302.6L193.5 302.9L182.0 302.7L166.5 302.3L152.5 301.5L140.0 301.1L137.0 301.2L86.0 301.2Z"/>
<path fill="#fc9610" d="M86.0 254.4L86.0 254.0L138.0 254.0L146.0 254.2L154.6 254.9L163.0 256.0L167.0 256.4L192.0 257.5L210.0 258.8L267.5 261.6L287.9 262.9L294.0 263.1L362.5 262.6L421.5 262.6L537.5 262.7L660.5 263.3L743.5 263.2L865.0 262.3L890.0 262.0L904.5 261.6L909.0 261.1L916.0 259.8L916.0 306.3L902.5 305.5L816.0 305.5L787.9 305.4L545.5 302.5L509.0 302.4L444.5 303.1L399.0 303.4L294.0 303.4L253.5 303.6L216.1 302.4L208.0 302.4L194.0 302.7L182.5 302.6L166.5 302.2L149.5 301.3L140.0 301.0L137.0 301.1L86.0 301.1Z"/>
<path fill="#fb8d10" d="M86.0 254.4L86.0 254.2L138.5 254.2L146.5 254.3L153.4 254.9L162.5 256.2L166.5 256.5L192.0 257.7L209.0 258.9L265.0 261.7L286.5 263.2L294.0 263.4L363.0 263.0L421.0 263.0L537.0 263.3L658.5 264.1L769.5 263.9L860.5 263.5L895.0 263.2L906.0 262.8L910.0 262.3L916.0 261.3L916.0 304.2L907.0 303.4L902.5 303.3L781.0 303.1L657.0 302.3L536.5 301.2L506.5 301.2L449.5 302.3L409.5 302.8L372.5 303.0L293.0 303.0L254.5 303.2L215.0 302.2L208.0 302.2L194.0 302.6L183.0 302.5L166.5 302.1L150.0 301.2L140.0 300.9L86.0 301.0Z"/>
<path fill="#fa8310" d="M86.0 254.4L138.5 254.3L146.5 254.5L152.0 254.9L162.0 256.3L166.0 256.6L192.0 257.8L209.0 259.1L265.0 262.0L285.5 263.4L293.5 263.8L364.5 263.4L429.0 263.4L537.5 263.8L659.5 264.8L817.5 264.9L866.0 264.7L901.5 264.4L908.0 264.0L916.0 263.1L916.0 301.7L907.0 300.9L902.0 300.8L665.5 300.8L564.5 300.1L518.5 300.0L497.0 300.3L443.0 301.7L410.5 302.3L374.0 302.5L292.5 302.6L254.0 302.9L214.0 302.0L207.5 302.0L194.5 302.4L184.0 302.4L166.0 302.0L150.5 301.2L140.0 300.9L86.0 301.0Z"/>
<path fill="#fa7a10" d="M86.0 254.9L86.0 254.5L139.5 254.5L146.5 254.6L152.0 255.1L161.4 256.4L166.0 256.8L193.5 258.1L209.0 259.3L227.0 260.2L247.1 261.4L264.0 262.2L285.0 263.7L293.5 264.1L366.5 263.7L445.0 263.9L540.0 264.4L657.5 265.5L803.5 266.0L857.0 266.0L899.5 265.7L907.0 265.6L916.0 264.9L916.0 299.2L907.0 298.4L901.5 298.3L808.5 298.4L681.0 299.3L516.5 298.9L491.5 299.4L438.0 301.2L407.0 301.8L376.5 302.1L293.5 302.2L256.0 302.5L213.0 301.8L207.0 301.8L194.5 302.3L184.0 302.2L166.2 301.9L151.0 301.1L139.5 300.8L137.0 300.9L86.0 300.9Z"/>
<path fill="#fa7010" d="M86.0 254.9L86.0 254.7L140.5 254.7L147.0 254.8L153.0 255.3L160.0 256.4L165.2 256.9L193.5 258.2L208.5 259.5L226.0 260.3L243.5 261.4L263.0 262.4L284.0 264.0L293.0 264.4L369.0 264.1L455.5 264.3L544.0 264.9L657.0 266.2L799.0 267.2L894.0 267.1L905.5 267.0L916.0 266.7L916.0 296.3L904.0 295.8L883.0 295.8L803.5 296.3L683.0 297.7L514.5 298.0L491.5 298.5L444.0 300.3L423.5 300.9L398.0 301.4L370.5 301.7L293.5 301.9L254.0 302.2L224.5 301.7L210.0 301.6L196.0 302.1L190.0 302.2L166.5 301.8L140.0 300.7L86.0 300.7Z"/>
<path fill="#f96510" d="M86.0 254.9L140.5 254.9L147.0 255.0L152.1 255.4L159.5 256.5L164.5 257.0L193.0 258.4L208.5 259.6L242.0 261.6L262.0 262.5L283.5 264.3L292.5 264.7L375.5 264.4L462.0 264.8L548.0 265.5L642.0 266.8L802.5 268.6L896.0 268.9L916.0 269.1L916.0 293.2L895.5 293.2L864.5 293.5L672.0 296.1L514.5 297.0L491.0 297.6L421.0 300.4L398.0 300.9L375.0 301.2L294.0 301.6L255.0 301.9L209.5 301.4L196.0 301.9L190.0 302.0L166.5 301.7L139.5 300.6L86.0 300.6Z"/>
<path fill="#f85b10" d="M86.0 255.4L86.0 255.1L147.0 255.1L150.6 255.4L159.0 256.7L164.0 257.1L193.0 258.5L208.0 259.8L240.0 261.7L261.5 262.7L282.5 264.5L292.0 265.0L365.5 264.8L405.5 264.9L534.5 265.9L705.0 268.3L809.5 270.6L880.5 271.4L903.0 271.9L916.0 272.9L916.0 288.5L904.5 289.5L888.0 290.1L831.0 291.2L763.4 292.9L722.5 293.7L655.5 294.8L511.0 296.1L493.0 296.7L423.5 299.6L402.0 300.3L382.0 300.7L293.5 301.2L257.0 301.6L209.5 301.2L195.0 301.8L190.0 301.9L166.0 301.6L139.5 300.5L86.0 300.5Z"/>
<path fill="#f85010" d="M86.0 255.4L86.0 255.2L147.0 255.3L151.0 255.7L158.0 256.7L163.0 257.2L193.0 258.7L208.5 260.0L238.5 261.8L260.5 262.9L281.0 264.8L291.5 265.3L369.0 265.2L413.0 265.3L472.5 265.8L549.5 266.7L692.5 269.3L734.0 270.4L815.5 272.8L877.0 274.1L894.1 274.9L902.0 275.5L905.5 276.0L910.5 277.1L916.0 279.2L916.0 281.0L910.0 283.5L907.0 284.4L904.0 285.0L892.5 286.1L877.3 286.9L826.0 288.3L749.5 291.1L701.4 292.4L651.0 293.3L510.0 295.2L492.5 295.8L433.0 298.6L393.5 299.9L366.5 300.4L294.0 300.9L259.5 301.3L209.0 301.1L190.0 301.7L166.0 301.5L139.5 300.3L86.0 300.4Z"/>
<path fill="#f64810" d="M86.0 255.9L86.0 255.4L146.5 255.5L151.0 255.9L157.0 256.8L162.0 257.3L193.4 258.9L206.5 260.0L233.0 261.7L258.5 263.0L263.7 263.4L280.0 265.0L290.5 265.6L384.0 265.6L449.0 266.0L543.5 267.3L641.0 269.2L709.0 271.0L763.9 272.9L792.8 274.4L815.0 276.1L827.0 276.9L841.0 277.6L878.0 278.9L887.0 279.4L890.6 279.9L889.8 280.4L885.0 280.9L878.5 281.3L839.5 282.9L825.0 283.7L788.2 286.9L767.0 288.0L732.5 289.5L697.5 290.7L662.5 291.6L511.0 294.2L488.5 295.1L456.2 296.9L436.5 297.8L413.5 298.8L391.0 299.4L365.0 299.9L294.0 300.6L260.5 301.1L208.5 300.9L195.0 301.4L189.0 301.5L166.5 301.4L139.5 300.2L86.0 300.2Z"/>
<path fill="#f44010" d="M86.0 255.9L86.0 255.7L147.0 255.7L149.6 255.9L157.0 257.0L162.0 257.5L192.5 259.0L205.5 260.2L230.5 261.8L258.5 263.3L279.0 265.3L291.0 265.9L395.0 266.1L478.8 266.9L539.9 267.9L592.0 269.0L703.0 272.1L725.0 272.9L734.8 273.4L748.9 274.4L791.3 278.9L795.0 279.4L797.0 279.9L796.3 280.4L793.5 280.9L780.0 282.8L766.4 284.9L762.2 285.4L748.5 286.5L728.0 287.7L692.0 289.1L654.5 290.3L509.0 293.2L482.0 294.5L436.5 297.2L394.5 298.8L365.2 299.4L295.5 300.2L264.0 300.7L209.0 300.7L193.5 301.3L187.5 301.3L166.0 301.2L139.5 300.0L86.0 300.0Z"/>
<path fill="#f23810" d="M86.0 255.9L146.9 255.9L155.5 257.1L161.0 257.6L193.5 259.3L204.5 260.3L231.0 262.1L256.1 263.4L278.5 265.6L291.0 266.3L394.0 266.5L468.0 267.3L583.0 269.6L613.4 270.4L675.6 272.4L698.7 273.4L711.9 274.4L749.4 278.4L753.0 278.9L755.4 279.4L756.2 279.9L755.2 280.4L753.1 280.9L735.4 284.4L732.1 284.9L721.0 285.9L708.0 286.6L679.0 287.8L642.5 289.0L507.0 292.3L478.0 293.7L428.8 296.9L396.5 298.1L368.5 298.8L299.5 299.7L263.5 300.4L208.5 300.6L193.5 301.1L185.0 301.1L165.5 301.1L139.0 299.9L86.0 299.9Z"/>
<path fill="#f03010" d="M86.0 256.4L86.0 256.1L146.0 256.1L149.2 256.4L155.0 257.2L159.5 257.6L176.0 258.6L192.0 259.4L205.0 260.6L226.5 262.1L255.5 263.7L279.5 266.0L291.5 266.7L384.5 266.9L439.7 267.4L549.5 269.6L599.2 270.9L651.8 272.9L669.6 273.9L688.5 275.5L712.7 277.9L720.7 278.9L722.4 279.4L722.4 279.9L721.0 280.4L703.1 284.4L699.3 284.9L689.5 285.6L671.0 286.5L640.5 287.5L503.5 291.4L471.0 293.1L424.3 296.4L399.0 297.5L371.0 298.2L302.5 299.0L261.5 300.2L208.5 300.4L182.5 301.0L164.1 300.9L139.0 299.6L86.0 299.6Z"/>
<path fill="#ed2a12" d="M86.0 256.4L86.0 256.3L146.0 256.4L155.0 257.5L162.5 258.1L192.5 259.7L224.0 262.2L254.0 263.9L278.0 266.3L291.5 267.2L384.0 267.3L433.5 267.8L548.0 270.3L583.5 271.4L617.2 272.9L634.1 273.9L655.5 275.6L680.9 277.9L689.1 278.9L690.4 279.4L689.6 279.9L687.8 280.4L673.0 283.6L668.4 284.4L663.1 284.9L640.5 285.9L519.5 289.8L498.5 290.6L464.0 292.6L416.5 296.0L397.0 296.9L371.5 297.6L298.5 298.4L289.5 298.7L273.5 299.5L258.3 299.9L208.0 300.2L177.5 300.7L165.0 300.7L139.0 299.4L86.0 299.4Z"/>
<path fill="#ea2414" d="M86.0 256.9L86.0 256.5L139.0 256.5L145.0 256.7L154.5 257.7L167.5 258.7L191.5 259.9L221.0 262.3L254.5 264.3L282.0 267.1L291.5 267.7L379.0 267.8L418.0 268.1L437.0 268.4L524.5 270.5L554.0 271.4L593.2 273.4L617.0 275.1L634.0 276.5L648.3 277.9L655.5 278.9L656.1 279.4L654.7 279.9L652.4 280.4L637.3 283.4L631.5 284.2L625.0 284.7L610.0 285.4L530.5 288.1L496.5 289.6L461.5 291.7L403.5 295.8L390.5 296.5L370.0 297.0L294.5 297.8L285.5 298.1L267.0 299.2L257.0 299.5L206.5 300.0L176.5 300.5L163.0 300.4L139.0 299.1L86.0 299.1Z"/>
<path fill="#e71e16" d="M86.0 256.9L86.0 256.8L137.5 256.8L143.5 256.9L155.5 258.0L169.0 259.1L192.0 260.3L219.5 262.6L254.0 264.7L282.0 267.6L291.0 268.2L374.5 268.3L401.5 268.5L426.2 268.9L521.5 271.4L560.6 273.4L592.5 275.5L614.1 277.4L620.4 278.4L621.8 278.9L621.3 279.4L619.4 279.9L603.5 282.9L596.1 283.9L589.4 284.4L577.5 285.0L519.5 287.2L499.0 288.2L467.0 290.2L403.5 294.7L382.4 295.9L360.5 296.4L293.0 297.1L281.0 297.6L261.4 298.9L253.0 299.1L175.5 300.1L163.5 300.0L139.0 298.8L86.0 298.8Z"/>
<path fill="#e41818" d="M86.0 257.4L86.0 257.1L138.5 257.1L142.0 257.2L167.5 259.3L191.5 260.6L217.0 262.7L254.5 265.2L262.3 265.9L280.5 268.0L290.0 268.7L295.5 268.9L370.0 268.9L390.0 269.0L412.0 269.5L486.5 271.4L525.5 273.3L564.0 275.6L578.5 276.7L585.9 277.4L588.5 277.9L589.4 278.4L589.1 278.9L587.5 279.4L585.0 279.9L568.3 282.9L559.9 283.9L552.0 284.4L510.5 286.2L488.5 287.4L471.5 288.5L411.5 293.1L393.0 294.2L378.0 295.0L356.5 295.5L293.5 296.4L280.5 296.9L253.0 298.5L235.3 298.9L194.5 299.5L165.5 299.6L139.0 298.3L86.0 298.3Z"/>
<path fill="#df141c" d="M86.0 257.4L140.0 257.4L167.0 259.7L192.0 261.0L216.5 263.1L253.5 265.5L262.4 266.4L279.5 268.5L290.0 269.3L298.0 269.4L379.0 269.8L414.5 270.5L451.3 271.4L477.1 272.4L532.5 275.5L553.2 276.9L557.8 277.4L559.7 277.9L559.2 278.4L557.5 278.9L552.4 279.9L535.4 282.9L526.7 283.9L474.0 286.9L457.0 288.1L418.8 291.4L397.5 292.8L379.5 293.8L357.5 294.4L293.5 295.5L279.5 296.1L256.5 297.4L244.5 297.9L195.5 299.0L165.5 299.1L139.0 297.9L86.0 297.9Z"/>
<path fill="#da1020" d="M86.0 257.9L86.0 257.8L140.0 257.8L166.5 260.0L192.5 261.4L213.5 263.3L252.3 265.9L259.5 266.6L279.5 269.1L291.5 270.0L376.0 270.7L410.0 271.4L435.0 272.0L456.5 272.9L516.5 276.4L529.0 277.4L530.6 277.9L529.5 278.4L527.1 278.9L505.4 282.9L497.3 283.9L452.5 286.9L406.5 291.0L393.3 291.9L380.5 292.6L358.0 293.3L294.5 294.5L250.0 296.8L224.5 297.6L194.5 298.3L167.0 298.5L160.5 298.3L147.5 297.6L140.0 297.4L86.0 297.4Z"/>
<path fill="#d50c24" d="M86.0 258.4L86.0 258.2L139.5 258.2L149.2 258.9L167.0 260.5L193.9 261.9L214.5 263.8L251.5 266.4L259.0 267.1L279.5 269.7L291.5 270.7L312.0 271.1L375.5 271.7L417.0 272.6L435.3 273.4L485.9 276.4L499.2 277.4L501.2 277.9L500.6 278.4L496.2 279.4L478.3 282.9L471.2 283.9L432.4 286.9L395.0 290.4L379.0 291.4L357.5 292.1L294.0 293.4L254.5 295.6L193.0 297.5L167.5 297.8L162.0 297.7L145.0 296.8L86.0 296.8Z"/>
<path fill="#d00828" d="M86.0 258.9L86.0 258.6L140.0 258.7L149.0 259.3L167.0 260.9L193.0 262.3L215.0 264.3L245.2 266.4L258.0 267.6L284.0 271.0L291.5 271.6L311.5 272.0L369.0 272.6L386.3 272.9L400.0 273.4L463.3 276.9L470.0 277.5L472.8 277.9L473.5 278.4L472.5 278.9L470.4 279.4L452.9 282.9L446.7 283.9L386.0 289.3L367.5 290.5L351.0 291.1L294.0 292.4L284.0 292.9L253.5 294.7L197.0 296.6L180.5 297.0L165.0 297.1L145.5 296.1L86.0 296.1Z"/>
<path fill="#ca072c" d="M86.0 259.4L86.0 259.1L140.5 259.2L149.0 259.7L167.0 261.3L192.5 262.7L213.5 264.7L244.0 266.9L260.0 268.5L267.3 269.4L282.0 271.7L290.5 272.5L308.5 273.0L359.0 273.6L379.5 274.2L411.5 275.7L437.5 277.2L444.6 277.9L447.0 278.4L447.3 278.9L445.7 279.4L437.5 280.9L425.7 283.4L418.8 284.4L408.6 285.4L378.5 287.9L367.0 288.8L355.5 289.4L293.5 291.3L253.5 293.7L217.0 294.8L195.0 295.8L178.5 296.3L165.0 296.4L145.5 295.3L86.0 295.2Z"/>
<path fill="#c40630" d="M86.0 259.9L86.0 259.6L138.5 259.6L144.5 259.9L166.0 261.6L193.0 263.2L211.0 264.9L230.7 266.4L253.5 268.4L262.3 269.4L281.0 272.5L290.5 273.4L309.0 274.0L353.5 275.0L370.0 275.5L408.5 277.4L419.0 278.3L420.2 278.4L422.0 278.9L421.0 279.4L412.9 280.9L398.4 283.9L391.1 284.9L380.1 285.9L366.0 287.0L353.0 287.8L293.0 290.2L253.5 292.6L213.5 294.0L186.5 295.3L171.5 295.7L163.0 295.6L150.5 294.6L146.0 294.4L86.0 294.4Z"/>
<path fill="#be0534" d="M86.0 260.4L86.0 260.1L138.5 260.1L146.0 260.4L164.5 262.0L193.5 263.7L209.5 265.3L251.9 268.9L260.3 269.9L279.0 273.2L291.0 274.5L311.0 275.3L355.5 276.6L373.5 277.3L391.8 278.4L395.6 278.9L395.7 279.4L373.1 283.9L366.2 284.9L360.8 285.4L337.7 286.9L291.0 289.1L264.0 291.0L251.5 291.7L213.5 293.1L193.0 294.2L171.0 295.0L163.5 294.9L151.0 293.8L146.0 293.6L86.0 293.6Z"/>
<path fill="#b80438" d="M86.0 260.9L86.0 260.6L137.5 260.6L146.5 260.9L162.5 262.3L193.5 264.1L208.5 265.7L249.5 269.4L257.3 270.4L279.0 274.2L286.0 275.2L291.5 275.8L312.5 276.8L359.1 278.4L366.4 278.9L368.5 279.4L367.4 279.9L365.2 280.4L353.8 282.4L340.5 284.4L331.2 285.4L317.6 286.4L287.0 288.1L261.5 290.0L249.0 290.8L210.5 292.3L192.5 293.4L171.0 294.2L164.0 294.1L151.5 293.0L146.0 292.8L86.0 292.8Z"/>
<path fill="#b2043c" d="M86.0 261.4L86.0 261.1L140.0 261.1L146.5 261.4L161.5 262.7L190.5 264.4L196.3 264.9L223.5 267.8L241.2 269.4L249.0 270.3L259.5 271.9L281.0 275.8L288.5 276.9L299.5 277.6L328.5 279.0L334.3 279.4L336.8 279.9L336.2 280.4L331.0 281.4L308.2 284.9L299.8 285.9L252.0 289.5L209.5 291.4L193.5 292.5L177.5 293.1L168.0 293.3L163.5 293.1L152.0 292.2L146.5 291.9L86.0 291.9Z"/>
<path fill="#ac0440" d="M86.0 261.9L86.0 261.7L139.5 261.7L191.5 265.0L219.0 268.2L241.9 270.4L255.0 272.2L262.0 273.4L275.0 276.3L281.5 277.4L290.5 278.4L304.5 279.4L308.7 279.9L309.8 280.4L308.3 280.9L287.6 284.9L280.5 286.0L246.5 288.6L209.0 290.6L193.5 291.6L178.0 292.2L168.0 292.3L163.5 292.2L152.0 291.3L146.5 291.1L86.0 291.1Z"/>
<path fill="#a60444" d="M86.0 262.4L86.0 262.2L139.5 262.2L190.5 265.5L198.6 266.4L215.0 268.5L233.2 270.4L255.0 273.4L260.3 274.4L267.0 276.2L272.0 277.3L278.0 278.4L288.8 279.9L289.8 280.4L288.8 280.9L274.0 284.7L270.1 285.4L266.0 285.9L241.5 287.8L193.5 290.7L178.0 291.3L168.0 291.4L163.5 291.3L152.0 290.5L146.5 290.3L86.0 290.2Z"/>
<path fill="#a00448" d="M86.0 262.9L86.0 262.8L139.5 262.8L181.0 265.5L190.5 266.2L199.0 267.2L211.0 268.9L228.5 270.9L250.0 273.9L254.7 274.9L265.0 277.6L274.0 279.4L275.6 279.9L275.8 280.4L273.1 281.4L262.5 284.4L259.9 284.9L256.0 285.4L239.5 286.7L193.5 289.8L178.5 290.3L168.0 290.5L163.0 290.3L151.5 289.6L146.0 289.4L86.0 289.4Z"/>
<path fill="#9a054d" d="M86.0 263.9L86.0 263.4L139.0 263.4L178.0 265.9L188.0 266.7L198.5 267.8L208.5 269.4L220.1 270.9L241.5 274.0L246.1 274.9L261.9 278.9L263.6 279.4L264.3 279.9L263.7 280.4L262.3 280.9L255.0 283.0L249.5 284.4L246.0 284.9L235.5 285.8L193.5 288.9L179.0 289.4L168.0 289.6L163.0 289.5L146.0 288.6L86.0 288.6Z"/>
<path fill="#940652" d="M86.0 264.4L86.0 264.1L139.0 264.1L175.4 266.4L187.7 267.4L197.5 268.4L221.3 272.4L234.8 274.4L239.2 275.4L252.0 278.9L253.1 279.4L253.1 279.9L250.3 280.9L241.1 283.4L236.2 284.4L227.0 285.3L192.5 288.0L179.0 288.6L168.0 288.7L163.0 288.6L146.0 287.8L86.0 287.7Z"/>
<path fill="#8e0757" d="M86.0 264.9L139.4 264.9L172.5 266.9L190.6 268.4L198.0 269.4L213.5 272.4L228.3 274.9L240.5 278.4L242.0 278.9L242.6 279.4L242.1 279.9L238.0 281.1L229.3 283.4L224.5 284.2L196.0 286.8L184.0 287.5L175.5 287.8L167.5 287.9L146.0 286.9L86.0 286.9Z"/>
<path fill="#88085c" d="M86.0 265.9L86.0 265.7L139.0 265.7L161.1 266.9L186.7 268.9L191.7 269.4L195.5 270.0L201.0 271.1L209.5 273.1L219.6 274.9L221.7 275.4L231.0 278.4L232.3 278.9L232.6 279.4L231.7 279.9L228.5 280.8L218.0 283.4L215.1 283.9L196.5 285.7L178.5 286.8L171.5 287.0L165.5 287.0L146.0 286.1L86.0 286.1Z"/>
<path fill="#830862" d="M86.0 266.9L86.0 266.7L139.5 266.7L155.4 267.4L181.5 269.5L192.5 270.7L199.5 272.0L206.5 273.8L213.2 275.4L221.8 278.4L222.8 278.9L222.7 279.4L219.7 280.4L209.4 282.9L204.1 283.9L195.5 284.7L176.5 286.0L165.5 286.1L146.0 285.2L86.0 285.2Z"/>
<path fill="#7e0867" d="M86.0 267.9L141.5 267.9L149.0 268.2L178.0 270.3L192.5 271.9L197.6 272.9L205.4 275.4L212.6 278.4L213.2 278.9L212.8 279.4L211.3 279.9L200.9 282.9L198.1 283.4L192.5 283.9L174.0 284.9L164.5 284.9L146.0 283.9L86.0 283.9Z"/>
<path fill="#7a086d" d="M86.0 269.4L86.0 269.1L139.0 269.1L170.2 270.9L188.4 272.9L193.0 273.7L198.3 275.4L202.5 277.2L203.8 277.9L204.4 278.4L204.3 278.9L203.5 279.4L200.5 280.4L195.5 281.9L193.1 282.4L187.5 282.9L175.5 283.4L164.5 283.5L150.5 282.5L146.0 282.4L86.0 282.3Z"/>
<path fill="#750872" d="M86.0 271.4L86.0 271.0L138.5 271.0L157.0 272.1L173.0 273.4L183.5 274.7L188.0 275.5L193.8 276.9L195.4 277.4L196.4 277.9L196.3 278.4L195.2 278.9L193.0 279.4L182.0 281.0L177.0 281.6L171.0 281.9L165.3 281.9L154.5 281.0L147.0 280.8L86.0 280.8Z"/>
<path fill="#700878" d="M86.0 274.4L86.0 274.1L138.5 274.1L146.0 274.2L150.4 274.4L163.5 275.5L171.0 275.9L175.0 276.4L176.2 276.9L175.1 277.4L174.0 277.6L168.0 277.9L161.5 277.7L146.0 276.9L86.0 276.9Z"/>
</g>
<g stroke="#161616" stroke-width="1.2" fill="none" stroke-linecap="butt">
<rect x="45.9" y="4.85" width="909.50" height="428.35"/>
<path d="M86.89 433.2v-4.1M86.89 4.85v4.1M138.60 433.2v-4.1M138.60 4.85v4.1M190.31 433.2v-4.1M190.31 4.85v4.1M242.02 433.2v-4.1M242.02 4.85v4.1M293.73 433.2v-4.1M293.73 4.85v4.1M345.44 433.2v-4.1M345.44 4.85v4.1M397.15 433.2v-4.1M397.15 4.85v4.1M448.86 433.2v-4.1M448.86 4.85v4.1M500.57 433.2v-4.1M500.57 4.85v4.1M552.28 433.2v-4.1M552.28 4.85v4.1M603.99 433.2v-4.1M603.99 4.85v4.1M655.70 433.2v-4.1M655.70 4.85v4.1M707.41 433.2v-4.1M707.41 4.85v4.1M759.12 433.2v-4.1M759.12 4.85v4.1M810.83 433.2v-4.1M810.83 4.85v4.1M862.54 433.2v-4.1M862.54 4.85v4.1M914.25 433.2v-4.1M914.25 4.85v4.1M45.9 432.28h4.1M955.4 432.28h-4.1M45.9 406.42h4.1M955.4 406.42h-4.1M45.9 380.57h4.1M955.4 380.57h-4.1M45.9 354.71h4.1M955.4 354.71h-4.1M45.9 328.86h4.1M955.4 328.86h-4.1M45.9 303.00h4.1M955.4 303.00h-4.1M45.9 277.15h4.1M955.4 277.15h-4.1M45.9 251.29h4.1M955.4 251.29h-4.1M45.9 225.44h4.1M955.4 225.44h-4.1M45.9 199.58h4.1M955.4 199.58h-4.1M45.9 173.73h4.1M955.4 173.73h-4.1M45.9 147.87h4.1M955.4 147.87h-4.1M45.9 122.02h4.1M955.4 122.02h-4.1M45.9 96.16h4.1M955.4 96.16h-4.1M45.9 70.31h4.1M955.4 70.31h-4.1M45.9 44.45h4.1M955.4 44.45h-4.1M45.9 18.60h4.1M955.4 18.60h-4.1"/>
</g>
<g font-size="12px">
<text x="86.89" y="448.8" text-anchor="middle">-1</text>
<text x="138.60" y="448.8" text-anchor="middle">0</text>
<text x="190.31" y="448.8" text-anchor="middle">1</text>
<text x="242.02" y="448.8" text-anchor="middle">2</text>
<text x="293.73" y="448.8" text-anchor="middle">3</text>
<text x="345.44" y="448.8" text-anchor="middle">4</text>
<text x="397.15" y="448.8" text-anchor="middle">5</text>
<text x="448.86" y="448.8" text-anchor="middle">6</text>
<text x="500.57" y="448.8" text-anchor="middle">7</text>
<text x="552.28" y="448.8" text-anchor="middle">8</text>
<text x="603.99" y="448.8" text-anchor="middle">9</text>
<text x="655.70" y="448.8" text-anchor="middle">10</text>
<text x="707.41" y="448.8" text-anchor="middle">11</text>
<text x="759.12" y="448.8" text-anchor="middle">12</text>
<text x="810.83" y="448.8" text-anchor="middle">13</text>
<text x="862.54" y="448.8" text-anchor="middle">14</text>
<text x="914.25" y="448.8" text-anchor="middle">15</text>
<text x="42.6" y="436.68" text-anchor="end">-3</text>
<text x="42.6" y="410.82" text-anchor="end">-2.5</text>
<text x="42.6" y="384.97" text-anchor="end">-2</text>
<text x="42.6" y="359.11" text-anchor="end">-1.5</text>
<text x="42.6" y="333.26" text-anchor="end">-1</text>
<text x="42.6" y="307.40" text-anchor="end">-0.5</text>
<text x="42.6" y="281.55" text-anchor="end">0</text>
<text x="42.6" y="255.69" text-anchor="end">0.5</text>
<text x="42.6" y="229.84" text-anchor="end">1</text>
<text x="42.6" y="203.98" text-anchor="end">1.5</text>
<text x="42.6" y="178.13" text-anchor="end">2</text>
<text x="42.6" y="152.27" text-anchor="end">2.5</text>
<text x="42.6" y="126.42" text-anchor="end">3</text>
<text x="42.6" y="100.56" text-anchor="end">3.5</text>
<text x="42.6" y="74.71" text-anchor="end">4</text>
<text x="42.6" y="48.85" text-anchor="end">4.5</text>
<text x="42.6" y="23.00" text-anchor="end">5</text>
</g>
<text x="2.0" y="9.0" font-size="9.6px" textLength="9.7" lengthAdjust="spacingAndGlyphs">m</text>
<text x="947.3" y="448.6" font-size="10px" textLength="9.8" lengthAdjust="spacingAndGlyphs">m</text>
<rect x="96.00" y="462.4" width="20.87" height="11.80" fill="#2a0a8a"/>
<rect x="116.27" y="462.4" width="20.87" height="11.80" fill="#2e1494"/>
<rect x="136.53" y="462.4" width="20.87" height="11.80" fill="#2e1494"/>
<rect x="156.80" y="462.4" width="20.87" height="11.80" fill="#3520a8"/>
<rect x="177.07" y="462.4" width="20.87" height="11.80" fill="#3828b0"/>
<rect x="197.33" y="462.4" width="20.87" height="11.80" fill="#3a30b5"/>
<rect x="217.60" y="462.4" width="20.87" height="11.80" fill="#3a30b5"/>
<rect x="237.87" y="462.4" width="20.87" height="11.80" fill="#3a45b5"/>
<rect x="258.13" y="462.4" width="20.87" height="11.80" fill="#3a50b8"/>
<rect x="278.40" y="462.4" width="20.87" height="11.80" fill="#3a68b0"/>
<rect x="298.67" y="462.4" width="20.87" height="11.80" fill="#3a7aa8"/>
<rect x="318.93" y="462.4" width="20.87" height="11.80" fill="#3a7aa8"/>
<rect x="339.20" y="462.4" width="20.87" height="11.80" fill="#45a098"/>
<rect x="359.47" y="462.4" width="20.87" height="11.80" fill="#4fa890"/>
<rect x="379.73" y="462.4" width="20.87" height="11.80" fill="#52b088"/>
<rect x="400.00" y="462.4" width="20.87" height="11.80" fill="#52b088"/>
<rect x="420.27" y="462.4" width="20.87" height="11.80" fill="#6cc88a"/>
<rect x="440.53" y="462.4" width="20.87" height="11.80" fill="#8dd5a5"/>
<rect x="460.80" y="462.4" width="20.87" height="11.80" fill="#b5e3c2"/>
<rect x="481.07" y="462.4" width="20.87" height="11.80" fill="#b5e3c2"/>
<rect x="501.33" y="462.4" width="20.87" height="11.80" fill="#f3ecd5"/>
<rect x="521.60" y="462.4" width="20.87" height="11.80" fill="#f3e49a"/>
<rect x="541.87" y="462.4" width="20.87" height="11.80" fill="#f2dc62"/>
<rect x="562.13" y="462.4" width="20.87" height="11.80" fill="#f5d428"/>
<rect x="582.40" y="462.4" width="20.87" height="11.80" fill="#f5d428"/>
<rect x="602.67" y="462.4" width="20.87" height="11.80" fill="#f0b818"/>
<rect x="622.93" y="462.4" width="20.87" height="11.80" fill="#eda81c"/>
<rect x="643.20" y="462.4" width="20.87" height="11.80" fill="#ea961f"/>
<rect x="663.47" y="462.4" width="20.87" height="11.80" fill="#ea961f"/>
<rect x="683.73" y="462.4" width="20.87" height="11.80" fill="#e4731c"/>
<rect x="704.00" y="462.4" width="20.87" height="11.80" fill="#e06218"/>
<rect x="724.27" y="462.4" width="20.87" height="11.80" fill="#dc4a14"/>
<rect x="744.53" y="462.4" width="20.87" height="11.80" fill="#dc4a14"/>
<rect x="764.80" y="462.4" width="20.87" height="11.80" fill="#c43418"/>
<rect x="785.07" y="462.4" width="20.87" height="11.80" fill="#b62c1a"/>
<rect x="805.33" y="462.4" width="20.87" height="11.80" fill="#a01c1c"/>
<rect x="825.60" y="462.4" width="20.87" height="11.80" fill="#a01c1c"/>
<rect x="845.87" y="462.4" width="20.87" height="11.80" fill="#8a101e"/>
<rect x="866.13" y="462.4" width="20.87" height="11.80" fill="#800c20"/>
<path d="M116.57 462.4v2.6M116.57 474.2v-2.6M157.10 462.4v2.6M157.10 474.2v-2.6M177.37 462.4v2.6M177.37 474.2v-2.6M197.63 462.4v2.6M197.63 474.2v-2.6M238.17 462.4v2.6M238.17 474.2v-2.6M258.43 462.4v2.6M258.43 474.2v-2.6M278.70 462.4v2.6M278.70 474.2v-2.6M298.97 462.4v2.6M298.97 474.2v-2.6M339.50 462.4v2.6M339.50 474.2v-2.6M359.77 462.4v2.6M359.77 474.2v-2.6M380.03 462.4v2.6M380.03 474.2v-2.6M420.57 462.4v2.6M420.57 474.2v-2.6M440.83 462.4v2.6M440.83 474.2v-2.6M461.10 462.4v2.6M461.10 474.2v-2.6M501.63 462.4v2.6M501.63 474.2v-2.6M521.90 462.4v2.6M521.90 474.2v-2.6M542.17 462.4v2.6M542.17 474.2v-2.6M562.43 462.4v2.6M562.43 474.2v-2.6M602.97 462.4v2.6M602.97 474.2v-2.6M623.23 462.4v2.6M623.23 474.2v-2.6M643.50 462.4v2.6M643.50 474.2v-2.6M684.03 462.4v2.6M684.03 474.2v-2.6M704.30 462.4v2.6M704.30 474.2v-2.6M724.57 462.4v2.6M724.57 474.2v-2.6M765.10 462.4v2.6M765.10 474.2v-2.6M785.37 462.4v2.6M785.37 474.2v-2.6M805.63 462.4v2.6M805.63 474.2v-2.6M846.17 462.4v2.6M846.17 474.2v-2.6M866.43 462.4v2.6M866.43 474.2v-2.6" stroke="#000" stroke-width="1.1" fill="none"/>
<rect x="96.3" y="462.4" width="790.40" height="11.80" fill="none" stroke="#000" stroke-width="1.3"/>
<g font-size="12px" text-anchor="middle">
<text x="97.10" y="487.5">-0.29</text>
<text x="157.70" y="487.5">-0.26</text>
<text x="238.50" y="487.5">-0.22</text>
<text x="299.10" y="487.5">-0.19</text>
<text x="359.70" y="487.5">-0.16</text>
<text x="420.30" y="487.5">-0.13</text>
<text x="501.10" y="487.5">-0.09</text>
<text x="561.70" y="487.5">-0.06</text>
<text x="622.30" y="487.5">-0.03</text>
<text x="682.90" y="487.5">0</text>
<text x="763.70" y="487.5">0.04</text>
<text x="844.50" y="487.5">0.08</text>
</g>
<text x="62.0" y="469.7" font-size="12px">Pa</text>
<text x="62.0" y="507.9" font-size="12px">m/s</text>
<defs><linearGradient id="vg" x1="0" x2="1" y1="0" y2="0"><stop offset="0.0000" stop-color="#efedf7"/><stop offset="0.0283" stop-color="#e6e2f6"/><stop offset="0.0998" stop-color="#c4b4f4"/><stop offset="0.1499" stop-color="#ac9cf4"/><stop offset="0.1713" stop-color="#9f94f5"/><stop offset="0.2070" stop-color="#8898f4"/><stop offset="0.2428" stop-color="#6ea4f6"/><stop offset="0.2785" stop-color="#50bcf6"/><stop offset="0.3143" stop-color="#30d4f6"/><stop offset="0.3858" stop-color="#30e8e0"/><stop offset="0.4215" stop-color="#38eed0"/><stop offset="0.4572" stop-color="#50f0a8"/><stop offset="0.4930" stop-color="#80f070"/><stop offset="0.5287" stop-color="#b0ee50"/><stop offset="0.5645" stop-color="#dce830"/><stop offset="0.6002" stop-color="#f0dc20"/><stop offset="0.6359" stop-color="#fcc410"/><stop offset="0.6717" stop-color="#fca010"/><stop offset="0.7074" stop-color="#fa7a10"/><stop offset="0.7432" stop-color="#f85010"/><stop offset="0.7789" stop-color="#f03010"/><stop offset="0.8147" stop-color="#e41818"/><stop offset="0.8504" stop-color="#d00828"/><stop offset="0.8861" stop-color="#b80438"/><stop offset="0.9219" stop-color="#a00448"/><stop offset="0.9576" stop-color="#88085c"/><stop offset="1.0000" stop-color="#700878"/></linearGradient></defs>
<rect x="96.3" y="502.9" width="790.40" height="11.40" fill="url(#vg)" stroke="#000" stroke-width="1.3"/>
<path d="M118.70 502.9v2.6M118.70 514.3v-2.6M231.70 502.9v2.6M231.70 514.3v-2.6M344.70 502.9v2.6M344.70 514.3v-2.6M457.70 502.9v2.6M457.70 514.3v-2.6M570.70 502.9v2.6M570.70 514.3v-2.6M683.70 502.9v2.6M683.70 514.3v-2.6M796.70 502.9v2.6M796.70 514.3v-2.6" stroke="#000" stroke-width="1.1" fill="none"/>
<g font-size="12px" text-anchor="middle">
<text x="118.70" y="527.5">-0.2</text>
<text x="231.70" y="527.5">0</text>
<text x="344.70" y="527.5">0.2</text>
<text x="457.70" y="527.5">0.4</text>
<text x="570.70" y="527.5">0.6</text>
<text x="683.70" y="527.5">0.8</text>
<text x="796.70" y="527.5">1</text>
</g>
</svg></body></html>
